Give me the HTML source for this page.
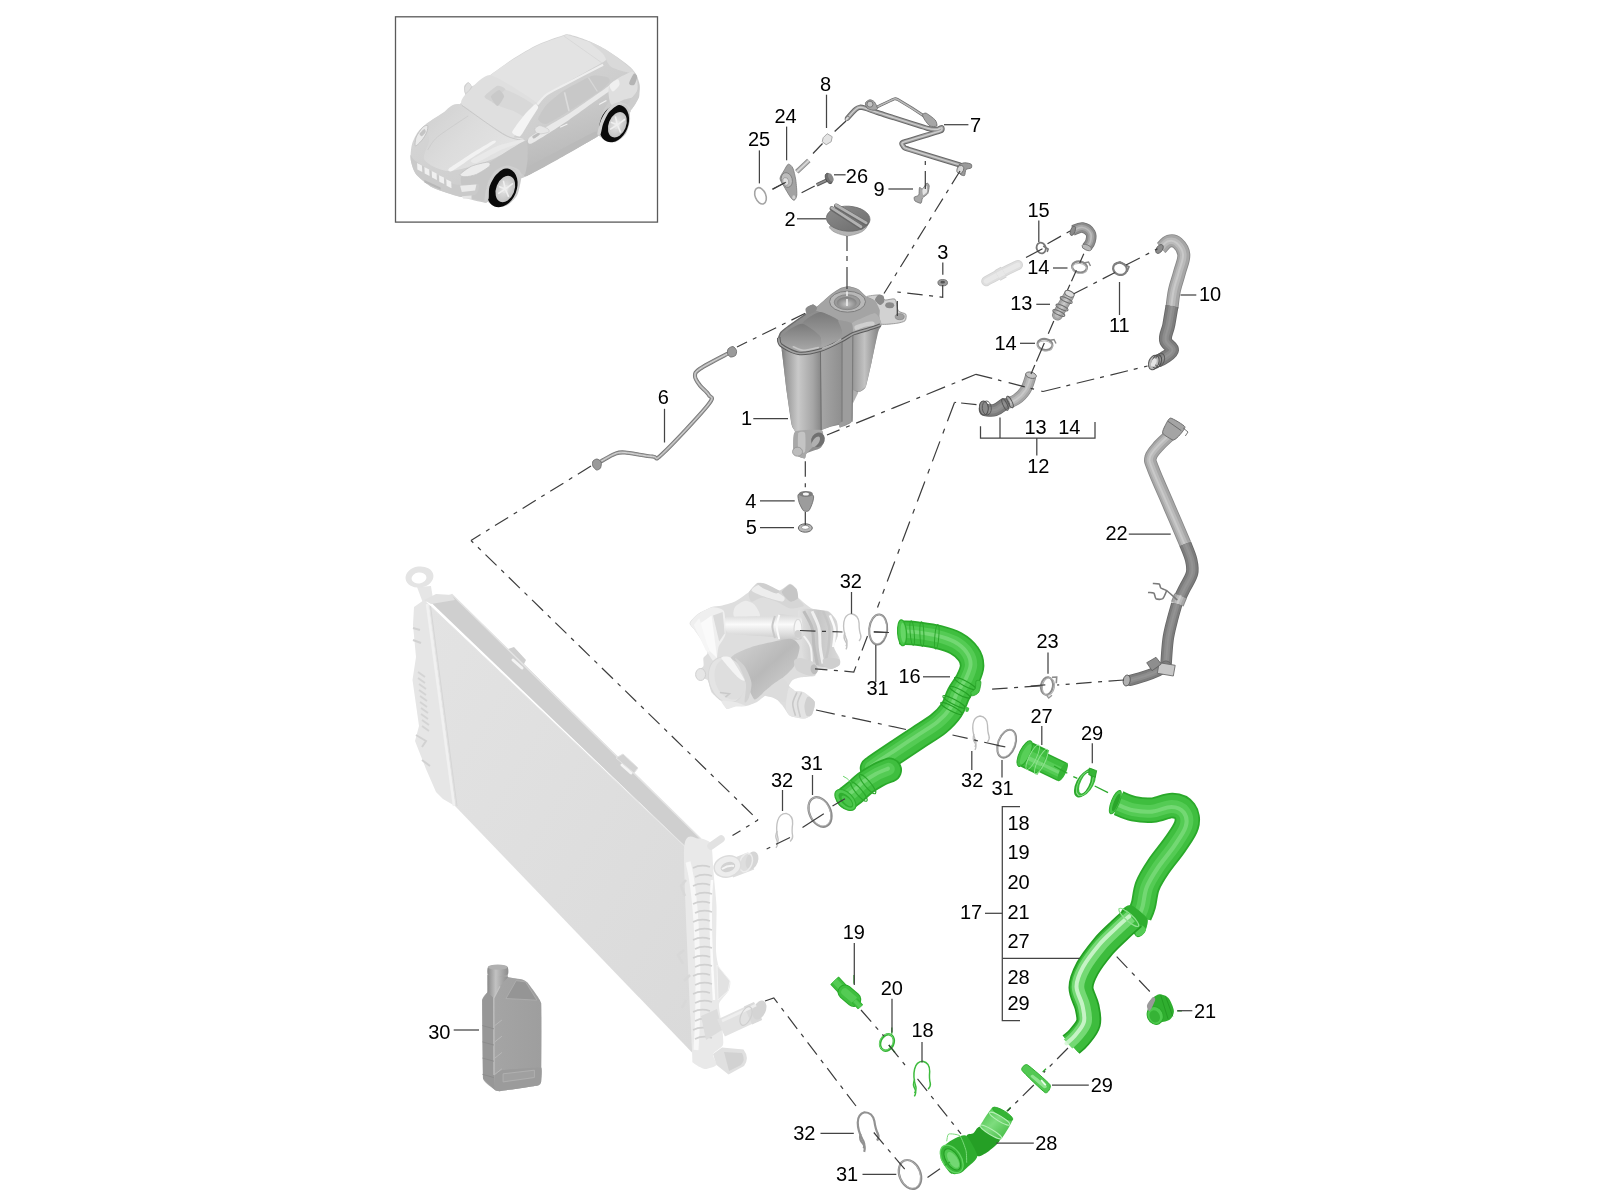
<!DOCTYPE html>
<html><head><meta charset="utf-8"><title>Diagram</title><style>
html,body{margin:0;padding:0;background:#fff;width:1600px;height:1200px;overflow:hidden}
svg{display:block;will-change:transform;filter:blur(0.45px)}
text{font-family:"Liberation Sans",sans-serif;font-size:20px;fill:#000;text-anchor:middle}
.l{stroke:#444;stroke-width:1.25;fill:none}
.d{stroke:#3c3c3c;stroke-width:1.2;fill:none;stroke-dasharray:15.5 6.5 4 6.5}
</style></head><body>
<svg width="1600" height="1200" viewBox="0 0 1600 1200">
<!-- 10_car.svg -->
<g id="car">
<rect x="395.5" y="16.8" width="262" height="205.3" fill="#fff" stroke="#5a5a5a" stroke-width="1.3"/>
<defs><linearGradient id="carb" x1="0" y1="0" x2="1" y2="1"><stop offset="0" stop-color="#dadada"/><stop offset="0.5" stop-color="#d0d0d0"/><stop offset="1" stop-color="#c0c0c0"/></linearGradient>
<linearGradient id="cars" x1="0" y1="0" x2="0.3" y2="1"><stop offset="0" stop-color="#d4d4d4"/><stop offset="1" stop-color="#b6b6b6"/></linearGradient>
<linearGradient id="carh" x1="0" y1="0" x2="1" y2="0.6"><stop offset="0" stop-color="#cfcfcf"/><stop offset="0.5" stop-color="#dcdcdc"/><stop offset="1" stop-color="#e4e4e4"/></linearGradient>
<radialGradient id="rim" cx="0.45" cy="0.5" r="0.6"><stop offset="0" stop-color="#e6e6e6"/><stop offset="1" stop-color="#bdbdbd"/></radialGradient></defs>
<path d="M410.6 154.9C410.7 152.3 411.2 146.5 412.2 143.5C413.2 140.5 416 134.7 417.9 132.1C419.7 129.5 423 126.4 426 124C429 121.6 436.1 117 440.6 114.2C445.2 111.5 456.9 106.1 460.1 103.7C463.4 101.3 464.5 98.7 465 96.4C465.5 94.1 463.8 88.5 464.2 86.6C464.6 84.8 467.3 82.6 468.2 82.6C469.2 82.6 468.5 87.7 471.5 86.6C474.5 85.5 485.4 78.2 491 74.4C496.6 70.6 507.5 62.2 513.8 58.2C520 54.2 531.6 47.4 538.1 44.4C544.6 41.3 558.4 36.7 562.5 35.4C566.6 34.1 565.8 34 569 34.6C572.2 35.3 581.9 38.3 586.9 40.3C591.9 42.4 601 46.8 606.4 50.1C611.8 53.3 623.6 61.5 627.5 64.7C631.4 67.8 634 70.9 635.6 73.6C637.2 76.3 639.3 82 639.7 85C640.1 88 639.6 93.6 638.9 96.4C638.1 99.2 635.2 104.2 634 106.1C632.8 108.1 630.5 109 629.9 111C629.4 113 630.5 117.7 629.9 120.8C629.4 123.8 627.7 130.9 625.9 133.8C624 136.6 618.7 140.9 616.1 141.9C613.5 142.8 608.8 141.9 606.4 141.1C604 140.2 599.9 135.7 598.2 135.4C596.6 135.1 603.7 133.2 594.2 138.6C584.7 144 536.4 170.9 526.8 176C517.1 181.1 522.7 175.7 521.9 176.8C521 177.9 520.9 181.6 520.2 184.1C519.6 186.6 518.7 192.7 517 195.5C515.3 198.3 510.1 203.7 507.2 205.2C504.4 206.8 498.5 207.3 495.9 206.9C493.3 206.4 489.3 202.5 487.8 202C486.2 201.5 488 203.5 484.5 202.8C481 202.2 468.7 199.2 461.8 197.1C454.8 195.1 438.6 190.4 432.5 187.4C426.4 184.3 419.1 177.6 416.2 174.4C413.4 171.1 412.1 165.6 411.4 163C410.6 160.4 410.5 157.5 410.6 154.9Z" fill="url(#carb)"/>
<path d="M491 75.2C493.2 72.4 507.5 63 513.8 59C520 55 531.6 48.2 538.1 45.2C544.6 42.2 558.4 37.5 562.5 36.2C566.6 35 565.8 34.8 569 35.4C572.2 36.1 582.5 39.3 586.9 41.1C591.2 43 598.9 47.1 601.5 49.2C604.1 51.4 606.4 55.5 606.4 57.4C606.4 59.2 607.4 59.4 601.5 63.1C595.6 66.7 570.3 80.6 562.5 85C554.7 89.4 546.5 94 543 96.4C539.5 98.8 542.6 105 536.5 102.9C530.4 100.7 503.6 83.8 497.5 80.1C491.4 76.4 488.8 78.1 491 75.2Z" fill="#e3e3e3"/>
<path d="M564.1 36.2 L601.5 62.6" fill="none" stroke="#d6d6d6" stroke-width="0.8"/>
<path d="M588.5 41.1C589.1 40.7 602.8 47.6 608 50.9C613.2 54.1 624 62.5 627.5 65.5C631 68.5 636.2 73.4 634 73.6C631.8 73.8 615.4 69.7 611.2 67.1C607.1 64.5 606.2 57.6 603.1 54.1C600.1 50.7 587.9 41.6 588.5 41.1Z" fill="#d9d9d9"/>
<path d="M461.8 104.5C458.5 100 468.6 91.2 471.5 88.2C474.4 85.3 484.5 73.8 491 75.2C497.5 76.7 532.8 98.7 536.5 102.9C540.2 107.1 530.6 114.1 528.4 117.5C526.1 120.9 516.2 135.4 513.8 137C511.3 138.6 509.2 137 504 133.8C498.8 130.5 465 109 461.8 104.5Z" fill="#dfdfdf"/>
<path d="M484.5 96.4C485.1 94.8 495.4 86.5 497.5 85.8C499.6 85.2 505.6 88 505.6 89.9C505.6 91.7 499 103.4 497.5 104.5C496 105.6 492.3 102.1 491 101.2C489.7 100.4 483.9 97.9 484.5 96.4Z" fill="#d2d2d2"/>
<path d="M497.5 104.5C496.7 102.4 502.1 89.9 505.6 89.9C509.2 89.9 531.1 101.7 533.2 104.5C535.4 107.3 528.7 116.8 526.8 117.5C524.8 118.2 516.7 112.3 513.8 111C510.8 109.7 498.3 106.6 497.5 104.5Z" fill="#d8d8d8"/>
<path d="M491 96.4C491.2 94.8 497.8 89.9 499.1 89.9C500.4 89.9 504.2 94.8 504 96.4C503.8 98 498.8 106.1 497.5 106.1C496.2 106.1 490.8 98 491 96.4Z" fill="#c9c9c9"/>
<path d="M512.1 132.1C512.5 130.1 521.2 118.6 523.5 115.9C525.8 113.1 533.4 105.3 534.9 104.5C536.3 103.7 538.6 106.1 538.1 107.8C537.6 109.4 531.8 117.9 530 120.8C528.2 123.6 522 135.1 520.2 136.2C518.5 137.3 511.8 134.2 512.1 132.1Z" fill="#f4f4f4"/>
<path d="M537.3 104.5C538.5 103.2 542.7 97.3 546.2 94.8C549.8 92.2 556.5 89 564.1 85C571.7 81 597.9 67.4 603.1 64.7" fill="none" stroke="#eeeeee" stroke-width="2.2"/>
<path d="M538.1 119.1C538.1 117.3 543.8 108.1 546.2 105.3C548.7 102.5 558 94.4 562.5 91.5C567 88.6 587.3 77.5 591.8 76.1C596.2 74.6 605.4 76.7 607.2 77.2C609 77.7 610.2 80.2 609.6 81.4C609.1 82.7 605.6 86.9 601.5 89.9C597.4 92.8 574.5 107.6 569 111C563.5 114.4 549.3 123.2 546.2 124C543.2 124.8 538.1 121 538.1 119.1Z" fill="#c8c8c8"/>
<path d="M564.5 92.3 L569 111" fill="none" stroke="#dcdcdc" stroke-width="1.6"/>
<path d="M588.5 77.7 L597.4 91.5" fill="none" stroke="#d8d8d8" stroke-width="1.2"/>
<path d="M526.8 140.2C531.1 136 561.4 120.8 569 115.9C576.6 111 598.9 94.6 603.1 91.5C607.4 88.4 610 85 611.2 85C612.5 85 616.9 88.9 616.1 91.5C615.3 94.1 604.9 106.8 603.1 111C601.3 115.2 599.1 131 598.2 133.8C597.4 136.5 601.3 134.4 594.2 138.6C587 142.8 533.6 174.1 526.8 176C519.9 177.9 525.9 161.7 525.9 158.1C525.9 154.6 522.4 144.5 526.8 140.2Z" fill="url(#cars)"/>
<path d="M530 137C533.7 134 561.7 118.2 569 113.4C576.3 108.7 598.9 92.8 603.1 89.9C607.4 87 610.3 84.3 611.2 84.2C612.2 84 613.7 87.1 612.9 88.2C612.1 89.4 607.5 92.4 603.1 95.6C598.7 98.7 576.1 115.1 569 119.9C561.9 124.7 535.5 141.8 531.6 143.5C527.7 145.2 526.3 140 530 137Z" fill="#e9e9e9"/>
<path d="M560.1 127.2 L567.4 124" fill="none" stroke="#f2f2f2" stroke-width="1.2"/>
<path d="M599.1 104.5 L606.4 100.4" fill="none" stroke="#f2f2f2" stroke-width="1.2"/>
<path d="M528.4 167.1C532.9 164.1 589.6 134.3 594.2 132.1C598.8 130 597.4 134.1 597.4 134.6C597.4 135 598.9 135.9 594.2 138.6C589.5 141.4 531.1 174.1 526.8 176C522.4 177.9 523.9 170 528.4 167.1Z" fill="#bababa"/>
<path d="M609.6 85C612.2 80.7 627.2 73.1 630.8 72C634.3 70.9 635.5 74.7 636.4 76.9C637.3 79 637.9 85.7 637.6 88.2C637.2 90.8 635.8 94.9 634 96.4C632.2 97.9 627.3 98.5 624.2 99.6C621.2 100.7 613.2 106.5 611.2 104.5C609.3 102.5 607 89.3 609.6 85Z" fill="#dfdfdf"/>
<path d="M609.6 85C610.3 83.4 616.5 79.3 617.8 79.3C619 79.3 620 83.4 619.4 85C618.7 86.6 614.2 91.5 612.9 91.5C611.6 91.5 609 86.6 609.6 85Z" fill="#f0f0f0"/>
<path d="M629.1 83.4C629.1 81.9 632.9 74.5 634 73.6C635.1 72.8 637.2 75.4 637.2 76.9C637.2 78.4 635.1 84.1 634 85C632.9 85.9 629.1 84.9 629.1 83.4Z" fill="#b4b4b4"/>
<path d="M627.5 104.5C628.5 101.9 635.7 92.6 637.2 91.5C638.8 90.4 639.6 94.4 639.2 96.4C638.8 98.3 635.2 104.2 634 106.1C632.8 108.1 630.8 111.2 629.9 111C629.1 110.8 626.5 107.1 627.5 104.5Z" fill="#cdcdcd"/>
<path d="M426 125.6C427.5 122.3 436.1 117.9 440.6 115.1C445.2 112.2 451.7 101.9 460.1 104.5C468.6 107.1 495.6 129.8 504 134.6C512.5 139.3 525.2 136.9 523.5 140.2C521.8 143.6 501 155.6 491 159.8C481 163.9 457.6 171.1 448.8 171.1C439.9 171.1 427 163.9 424.4 159.8C421.8 155.6 429 144.8 429.2 140.2C429.5 135.7 424.5 129 426 125.6Z" fill="url(#carh)"/>
<path d="M461.8 105.3C467.4 109.2 495.8 129.9 504 134.6C512.2 139.3 520.9 139.8 523.5 140.6" fill="none" stroke="#c8c8c8" stroke-width="1"/>
<path d="M427.6 150C428.9 148.3 432 141.6 437.4 137C442.8 132.4 464.1 118.7 468.2 115.9" fill="none" stroke="#cacaca" stroke-width="0.8"/>
<path d="M448.8 168.7C450.4 167.1 463.9 158.4 468.2 155.7C472.6 152.9 489.9 142.4 492.6 141.1C495.3 139.8 497.2 141 495.1 142.7C492.9 144.4 475.8 155.3 471.5 158.1C467.2 161 454.3 170.1 452 171.1C449.7 172.2 447.1 170.2 448.8 168.7Z" fill="#f2f2f2"/>
<path d="M471.5 159.8C473.6 158 492.6 147.9 497.5 145.9C502.4 144 517.6 140.4 520.2 139.9C522.9 139.5 526.3 140.5 524.3 141.6C522.4 142.6 505.5 147.9 500.8 150C496 152.1 479.3 162 476.4 163C473.4 164 469.4 161.5 471.5 159.8Z" fill="#e9e9e9"/>
<path d="M461.8 174.4C464.4 171 484.7 164.7 491 161.4C497.3 158 521.5 141.4 525.1 141.1C528.8 140.7 527.6 154.8 527.6 158.1C527.6 161.5 525.9 172.9 525.1 174.4C524.4 175.8 522 173.6 520.2 172.8C518.5 171.9 509.7 166.4 507.2 166.2C504.8 166.1 497.8 169.3 495.9 171.1C493.9 172.9 488.9 181.2 487.8 184.1C486.6 187.1 486.8 199.2 484.5 200.4C482.2 201.5 467.3 198.1 465 195.5C462.7 192.9 459.1 177.8 461.8 174.4Z" fill="#c6c6c6"/>
<path d="M460.1 174.4C461 173 467.8 167.9 471.5 166.2C475.2 164.6 485.4 162.2 487.8 162.2C490.1 162.2 490.9 164.6 489.4 166.2C487.9 167.9 479.6 173 476.4 174.4C473.1 175.8 467.2 176.8 465 176.8C462.8 176.8 459.3 175.8 460.1 174.4Z" fill="#ececec" stroke="#c2c2c2" stroke-width="0.8"/>
<path d="M416.2 137C417.2 134.5 421.2 128.8 422.8 127.2C424.3 125.7 427.1 125 427.6 125.6C428.2 126.3 427.6 130.2 426.8 132.1C426.1 134.1 423.5 138.4 421.9 140.2C420.4 142.1 416.2 146.4 415.4 145.9C414.7 145.5 415.3 139.5 416.2 137Z" fill="#e9e9e9" stroke="#bcbcbc" stroke-width="0.8"/>
<path d="M419.5 133.8C419.8 132.8 423.6 129.1 424.4 128.9C425.2 128.7 426 131.2 425.7 132.1C425.4 133.1 422.8 136 421.9 136.2C421.1 136.4 419.2 134.7 419.5 133.8Z" fill="#c4c4c4"/>
<path d="M410.6 154.9C411.1 154.7 411.9 158.4 416.2 161.4C420.6 164.3 447.4 181.8 453.6 184.1C459.8 186.4 475.7 183.2 478 184.1C480.3 185.1 478 192.6 476.4 193.9C474.8 195.2 466.1 197.8 461.8 197.1C457.4 196.5 437.1 189.7 432.5 187.4C427.9 185.1 418.4 176.8 416.2 174.4C414.1 171.9 411.9 164.9 411.4 163C410.8 161.1 410.1 155 410.6 154.9Z" fill="#cacaca"/>
<path d="M417.1 163 L421.9 165.4 L422.3 171.9 L417.4 169.5Z" fill="#f0f0f0"/>
<path d="M424.4 167.1 L429.2 169.5 L429.6 176 L424.7 173.6Z" fill="#f0f0f0"/>
<path d="M431.7 171.1 L436.6 173.6 L436.9 180.1 L432 177.6Z" fill="#f0f0f0"/>
<path d="M439 175.2 L443.9 177.6 L444.2 184.1 L439.3 181.7Z" fill="#f0f0f0"/>
<path d="M446.3 179.2 L451.2 181.7 L451.5 188.2 L446.6 185.8Z" fill="#f0f0f0"/>
<path d="M460.1 185.8 L476.4 184.4 L475.1 190.6 L461.8 191.9Z" fill="#ebebeb"/>
<path d="M424.4 180.1 L440.6 187.4 L440.6 189.8 L424.4 182.5Z" fill="#b8b8b8"/>
<path d="M461.8 196.3 L471.5 195.5 L471.5 198.8 L463.4 198.8Z" fill="#e6e6e6"/>
<path d="M534.9 128.9C535.3 127.9 538 125.6 539.8 125.6C541.5 125.6 546.7 128 547.9 128.9C549.1 129.7 549.6 131.5 548.7 132.1C547.8 132.8 543 133.6 541.4 133.8C539.8 133.9 537.4 133.6 536.5 132.9C535.6 132.3 534.4 129.8 534.9 128.9Z" fill="#e6e6e6" stroke="#c4c4c4" stroke-width="0.6"/>
<path d="M532.4 136.2C533 135.4 537.1 133.2 538.1 132.9C539.1 132.7 540.3 133.8 539.8 134.6C539.2 135.3 535 138.4 534.1 138.6C533.1 138.8 531.9 136.9 532.4 136.2Z" fill="#bdbdbd"/>
<path d="M464.7 87.4C465.1 86 467.3 82.7 468.2 82.6C469.2 82.5 471.5 85.4 471.5 86.6C471.5 87.8 469.1 90.6 468.2 91.5C467.4 92.4 465.8 93.7 465.3 93.1C464.8 92.6 464.3 88.8 464.7 87.4Z" fill="#e0e0e0" stroke="#c8c8c8" stroke-width="0.6"/>
<g transform="translate(502.1 187.7) rotate(22)"><ellipse rx="14.6" ry="20.2" fill="#0a0a0a"/><ellipse cx="3.5" rx="9.1" ry="13.7" fill="url(#rim)"/><ellipse cx="3.5" rx="2.9" ry="4.4" fill="#e2e2e2"/><path d="M3.5 0 l-5 -7 M3.5 0 l-5 7 M3.5 0 l5 -8 M3.5 0 l6 6 M3.5 0 l-7 0" stroke="#efefef" stroke-width="1.6"/></g>
<g transform="translate(614.2 123.5) rotate(22)"><ellipse rx="14.0" ry="19.5" fill="#0a0a0a"/><ellipse cx="3.4" rx="8.7" ry="13.3" fill="url(#rim)"/><ellipse cx="3.4" rx="2.8" ry="4.3" fill="#e2e2e2"/><path d="M3.4 0 l-5 -7 M3.4 0 l-5 7 M3.4 0 l5 -8 M3.4 0 l6 6 M3.4 0 l-7 0" stroke="#efefef" stroke-width="1.6"/></g>
<path d="M484.5 200.4C484.4 198.2 486.2 186.5 487.8 182.5C489.3 178.5 493.3 172.6 495.9 170.3C498.5 168 504.2 165.5 507.2 165.4C510.3 165.3 516.7 168 518.6 169.5C520.6 171 522.5 176.9 521.9 176.8C521.2 176.7 516.1 169.8 513.8 168.7C511.4 167.6 506.5 167.7 504 168.7C501.5 169.7 497 173.5 495.1 176C493.1 178.5 490.2 184.3 489.4 187.4C488.5 190.4 489.2 197 488.6 198.8C487.9 200.5 484.6 202.5 484.5 200.4Z" fill="#cfcfcf"/>
<path d="M597.4 133.8C597.5 131.8 599.9 122.7 601.5 119.1C603.1 115.5 607.2 109.2 609.6 106.9C612 104.7 616.8 102.2 619.4 102.1C622 102 627.6 104.7 629.1 106.1C630.6 107.5 631.2 112.7 630.8 112.6C630.3 112.5 627.6 106.3 625.9 105.3C624.1 104.3 620 104.3 617.8 105.3C615.5 106.3 610.8 110.1 608.8 112.6C606.9 115.1 604.2 121.2 603.1 124C602 126.8 601.4 132.4 600.7 133.8C599.9 135.1 597.3 135.7 597.4 133.8Z" fill="#d2d2d2"/>
</g>
<!-- 20_rad.svg -->
<g id="rad">
<defs>
<linearGradient id="radcore" x1="0" y1="0" x2="1" y2="1"><stop offset="0" stop-color="#e3e3e3"/><stop offset="1" stop-color="#dadada"/></linearGradient>
</defs>
<path d="M428.5 604 L686 847 L692.5 1053 L455 806Z" fill="url(#radcore)"/>
<path d="M431 602.5 L452 594.5 L508 649 L514 647 L526 660 L524 664 L701 839 L687 848Z" fill="#cfcfcf"/>
<path d="M431 602.5 L452 594.5 L701 839" fill="none" stroke="#e4e4e4" stroke-width="1.5"/>
<path d="M429 605 L687 848.5" fill="none" stroke="#e6e6e6" stroke-width="1"/>
<path d="M513 660 L522 668" stroke="#f4f4f4" stroke-width="3" stroke-linecap="round"/>
<path d="M622 765 L631 773" stroke="#f4f4f4" stroke-width="3" stroke-linecap="round"/>
<path d="M616 758 L623 754 L638 768 L634 773Z" fill="#d2d2d2" stroke="#e2e2e2" stroke-width="1"/>
<path d="M428.5 604 L424 600 L414 607 L413 625 L416 657 L412.5 680 L419 726 L415 741 L426 769 L436 792 L443 799 L455 806Z" fill="#e6e6e6"/>
<path d="M427 604 L454 806" stroke="#f1f1f1" stroke-width="2.5" fill="none"/>
<path d="M430.5 606 L457 806" stroke="#d6d6d6" stroke-width="1" fill="none"/>
<path d="M418 672 l7 5" stroke="#d4d4d4" stroke-width="2"/>
<path d="M418 678 l7 5" stroke="#d4d4d4" stroke-width="2"/>
<path d="M419 684 l7 5" stroke="#d4d4d4" stroke-width="2"/>
<path d="M419 690 l7 5" stroke="#d4d4d4" stroke-width="2"/>
<path d="M420 696 l7 5" stroke="#d4d4d4" stroke-width="2"/>
<path d="M420 702 l7 5" stroke="#d4d4d4" stroke-width="2"/>
<path d="M421 708 l7 5" stroke="#d4d4d4" stroke-width="2"/>
<path d="M421 714 l7 5" stroke="#d4d4d4" stroke-width="2"/>
<path d="M422 720 l7 5" stroke="#d4d4d4" stroke-width="2"/>
<path d="M422 726 l7 5" stroke="#d4d4d4" stroke-width="2"/>
<path d="M413 640 l8 3 M413 628 l7 2 M416 735 l10 6 l-4 6 M422 760 l8 6" stroke="#d2d2d2" stroke-width="2" fill="none"/>
<path d="M417 587 L423 603 L433 599 L431 586Z" fill="#e6e6e6"/>
<ellipse cx="419.5" cy="577" rx="14" ry="10.5" fill="#e4e4e4" transform="rotate(-8 419.5 577)"/>
<ellipse cx="419" cy="578" rx="7.5" ry="5.5" fill="#fff" transform="rotate(-8 419 578)"/>
<path d="M424 600 L436 594 L452 595 L455 600 L431 604Z" fill="#e2e2e2"/>
<path d="M684 850C684.6 828.9 695.3 839.1 698 838.5C700.7 837.9 709.5 840.1 711 843.5C712.5 846.9 713 865.8 713.5 872C714 878.2 716.2 898.2 716.5 906C716.8 913.8 715.8 943.9 716 950C716.2 956.1 717.6 963.9 719 967C720.4 970.1 729 978.6 730 981C731 983.4 729.6 988.7 728.5 991C727.4 993.3 719.6 1000.5 719 1004C718.4 1007.5 721.6 1021.9 722 1026C722.4 1030.1 723.9 1042.2 723 1045C722.1 1047.8 713.6 1052 713 1054C712.4 1056 717.3 1063.5 716.5 1065C715.7 1066.5 707.4 1069.2 705 1069C702.6 1068.8 694.3 1064.4 693 1062.5C691.7 1060.6 692.9 1071.2 692 1050C691.1 1028.8 683.4 871.1 684 850Z" fill="#e9e9e9"/>
<path d="M688 862 C698 900 700 990 696 1050" stroke="#f7f7f7" stroke-width="5" fill="none"/>
<path d="M712 880 C709 920 712 960 714 1000" stroke="#fbfbfb" stroke-width="2.5" fill="none"/>
<path d="M693 868 q8 -4 17 -1" stroke="#d0d0d0" stroke-width="1.8" fill="none"/>
<path d="M695 877 q8 -4 17 -1" stroke="#d0d0d0" stroke-width="1.8" fill="none"/>
<path d="M693 886 q8 -4 17 -1" stroke="#d0d0d0" stroke-width="1.8" fill="none"/>
<path d="M695 895 q8 -4 17 -1" stroke="#d0d0d0" stroke-width="1.8" fill="none"/>
<path d="M693 904 q8 -4 17 -1" stroke="#d0d0d0" stroke-width="1.8" fill="none"/>
<path d="M695 913 q8 -4 17 -1" stroke="#d0d0d0" stroke-width="1.8" fill="none"/>
<path d="M693 922 q8 -4 17 -1" stroke="#d0d0d0" stroke-width="1.8" fill="none"/>
<path d="M695 931 q8 -4 17 -1" stroke="#d0d0d0" stroke-width="1.8" fill="none"/>
<path d="M693 940 q8 -4 17 -1" stroke="#d0d0d0" stroke-width="1.8" fill="none"/>
<path d="M695 949 q8 -4 17 -1" stroke="#d0d0d0" stroke-width="1.8" fill="none"/>
<path d="M693 958 q8 -4 17 -1" stroke="#d0d0d0" stroke-width="1.8" fill="none"/>
<path d="M695 967 q8 -4 17 -1" stroke="#d0d0d0" stroke-width="1.8" fill="none"/>
<path d="M693 976 q8 -4 17 -1" stroke="#d0d0d0" stroke-width="1.8" fill="none"/>
<path d="M695 985 q8 -4 17 -1" stroke="#d0d0d0" stroke-width="1.8" fill="none"/>
<path d="M693 994 q8 -4 17 -1" stroke="#d0d0d0" stroke-width="1.8" fill="none"/>
<path d="M695 1003 q8 -4 17 -1" stroke="#d0d0d0" stroke-width="1.8" fill="none"/>
<path d="M693 1012 q8 -4 17 -1" stroke="#d0d0d0" stroke-width="1.8" fill="none"/>
<path d="M695 1021 q8 -4 17 -1" stroke="#d0d0d0" stroke-width="1.8" fill="none"/>
<path d="M693 1030 q8 -4 17 -1" stroke="#d0d0d0" stroke-width="1.8" fill="none"/>
<path d="M695 1039 q8 -4 17 -1" stroke="#d0d0d0" stroke-width="1.8" fill="none"/>
<path d="M686 880 l-5 6 l4 10 M684 950 l-6 5 l5 9 M690 975 l-6 6 M686 1000 l-4 8" stroke="#d8d8d8" stroke-width="2.5" fill="none"/>
<path d="M717 965 L730 981 L728 991 L718 1000Z" fill="#e2e2e2" stroke="#f2f2f2" stroke-width="1"/>
<path d="M701 1016 L717 1009 L722 1030 L706 1040Z" fill="#dcdcdc"/>
<path d="M711 846 L721 839" stroke="#e2e2e2" stroke-width="7.5" stroke-linecap="round"/>
<path d="M730 869 L751 861" stroke="#dedede" stroke-width="18" stroke-linecap="butt"/>
<ellipse cx="752" cy="860.5" rx="6" ry="9.3" fill="#d6d6d6" transform="rotate(20 752 860.5)"/>
<ellipse cx="746" cy="862.5" rx="6" ry="9.6" fill="none" stroke="#ececec" stroke-width="1.5" transform="rotate(20 746 862.5)"/>
<ellipse cx="727.5" cy="866.5" rx="13.5" ry="10.5" fill="#ededed" stroke="#dcdcdc" stroke-width="1.5" transform="rotate(-15 727.5 866.5)"/>
<ellipse cx="728" cy="867" rx="7.5" ry="4.8" fill="#d2d2d2" transform="rotate(-20 728 867)"/>
<path d="M722 869 q6 -4 12 -3" stroke="#f4f4f4" stroke-width="2" fill="none"/>
<path d="M721 1028 L758 1011" stroke="#e2e2e2" stroke-width="18.5"/>
<path d="M748 1015.5 L758 1011" stroke="#dadada" stroke-width="20"/>
<ellipse cx="759.5" cy="1010" rx="6.2" ry="10" fill="#d4d4d4" transform="rotate(24 759.5 1010)"/>
<path d="M722 1021 L756 1005" stroke="#eeeeee" stroke-width="3"/>
<ellipse cx="746" cy="1016" rx="5" ry="10" fill="none" stroke="#cfcfcf" stroke-width="1.2" transform="rotate(24 746 1016)"/>
<path d="M713 1054 L722 1047.5 L743.5 1049.5 Q750 1058 744 1066 L728.5 1074.5 L716.5 1065Z" fill="#e0e0e0"/>
<path d="M724 1052 L742 1053 Q746 1060 741 1065 L729 1071Z" fill="#d2d2d2"/>
</g>
<!-- 25_pump.svg -->
<g id="pump">
<defs>
<linearGradient id="pmA" x1="0" y1="0" x2="0" y2="1"><stop offset="0" stop-color="#d6d6d6"/><stop offset="0.4" stop-color="#fafafa"/><stop offset="0.75" stop-color="#dedede"/><stop offset="1" stop-color="#c8c8c8"/></linearGradient>
<linearGradient id="pmB" x1="0" y1="0" x2="1" y2="1"><stop offset="0" stop-color="#d4d4d4"/><stop offset="0.5" stop-color="#b9b9b9"/><stop offset="1" stop-color="#d6d6d6"/></linearGradient>
<linearGradient id="pmC" x1="0" y1="0" x2="1" y2="0"><stop offset="0" stop-color="#e2e2e2"/><stop offset="0.5" stop-color="#c6c6c6"/><stop offset="1" stop-color="#d8d8d8"/></linearGradient>
</defs>
<path d="M689.6 622.9C690 621.4 695.7 615.6 697.9 614C700.1 612.4 709.3 608 711.6 607.1C714 606.3 718.9 606.3 721.2 605.8C723.6 605.2 732.2 603 735 601.6C737.8 600.2 746.5 593.9 748.8 592C751 590.1 755.4 583.9 757 583.1C758.6 582.2 763 583 765.2 583.8C767.5 584.5 776.5 590.6 779 590.6C781.5 590.6 788.2 583.9 790 583.8C791.8 583.6 796 587.9 796.9 589.2C797.7 590.6 796.7 595.6 798.2 597.5C799.8 599.4 809 607.1 812 608.5C815 609.9 826 610 828.5 611.2C831 612.5 835.8 618.5 836.8 620.9C837.7 623.2 838.4 632 838.1 634.6C837.9 637.2 833.9 644.7 834 647C834.1 649.3 839 656.2 839.5 658C840 659.8 840.3 663.8 839.5 664.9C838.7 666 833.5 668.5 831.2 669C829 669.5 819.1 669.7 817.5 670.4C815.9 671.1 816.4 675.2 814.8 675.9C813.1 676.6 803.2 676.8 801 677.2C798.8 677.7 794 679 792.8 680C791.5 681 788.5 685.8 788.6 686.9C788.8 688 792.6 690.5 794.1 691C795.6 691.5 801.7 691.3 803.8 692.4C805.8 693.5 813.9 699.8 814.8 702C815.6 704.2 813.1 712.7 812 714.4C810.9 716 806 718.4 803.8 718.5C801.5 718.6 792.2 717.1 790 715.8C787.8 714.4 783.8 707 781.8 704.8C779.7 702.5 771.9 694 769.4 693.8C766.9 693.5 759.3 700.8 757 702C754.7 703.2 748.2 705.7 746 706.1C743.8 706.5 736.9 705.9 735 706.1C733.1 706.4 728.1 709.4 726.8 708.9C725.4 708.3 722.8 702.3 721.2 700.6C719.7 699 713 694.4 711.6 692.4C710.2 690.3 708.9 681.5 707.5 680C706.1 678.5 699 678.1 697.9 677.2C696.8 676.4 696 672.9 696.5 671.8C697 670.6 702.7 667.6 703.4 666.2C704.1 664.9 703 659.4 703.4 658C703.8 656.6 707.8 654.4 707.5 652.5C707.2 650.6 702 641.1 700.6 638.8C699.2 636.4 694.9 630.7 693.8 629.1C692.6 627.5 689.2 624.5 689.6 622.9Z" fill="#dedede"/>
<path d="M798.2 611.2C799.5 607.8 808.5 609.1 812 609.2C815.5 609.3 825.6 610.5 828.5 611.9C831.4 613.3 835.4 618.5 836.5 621.1C837.6 623.8 838.2 631.6 837.9 634.6C837.5 637.6 833.7 644.3 833.7 647C833.8 649.7 838.4 655.8 838.1 658C837.8 660.2 833.7 665.3 831.2 666.2C828.8 667.2 820.7 667.2 817.5 666.2C814.3 665.3 805.7 661.2 803.8 658C801.8 654.8 801.6 644.2 801 638.8C800.4 633.3 797 614.7 798.2 611.2Z" fill="url(#pmC)"/>
<path d="M812 611.2C813.1 614 817.5 621.8 818.9 627.8C820.2 633.7 819.6 641 820.2 647C820.9 653 822.5 660.8 823 663.5" fill="none" stroke="#efefef" stroke-width="3"/>
<path d="M823 611.2C824 614 828.3 621.8 829.2 627.8C830.1 633.7 829.1 641.7 828.5 647C827.9 652.3 826.2 657.3 825.8 659.4" fill="none" stroke="#c6c6c6" stroke-width="2.5"/>
<path d="M803.8 636C804.9 637.8 809.2 642 810.6 647C812 652 811.8 663 812 666.2" fill="none" stroke="#f2f2f2" stroke-width="2"/>
<path d="M748.8 592.7C749.4 590.6 755.1 584.7 757 583.8C758.9 582.8 762.7 583.3 765.2 584.2C767.8 585 776.1 590.9 779 590.9C781.9 590.9 787.9 584.6 790 584.4C792.1 584.3 795.7 587.9 796.6 589.5C797.5 591.1 797.1 596.3 798 598.2C798.8 600.1 804.7 604.5 803.8 605.8C802.8 607 793.2 609 790 608.5C786.8 608 779.5 602.9 776.2 601.6C773 600.3 765.4 597.5 762.5 597.5C759.6 597.5 753.1 602.2 751.5 601.6C749.9 601.1 748.1 594.8 748.8 592.7Z" fill="#d6d6d6"/>
<path d="M751.5 590.6C751.1 589.3 756.2 585 759.1 585.1C762 585.3 773.3 590.6 776.2 592C779.2 593.4 783.9 596.4 784.5 597.5C785.1 598.6 784.3 601.8 781.8 601.6C779.2 601.5 766 597.4 762.5 596.1C759 594.8 751.9 591.9 751.5 590.6Z" fill="#ededed"/>
<path d="M735 607.1C736.3 604.9 742.1 601.3 744.6 600.9C747.2 600.6 752.2 602.6 754.2 604.4C756.3 606.1 759.4 612.2 759.8 614C760.1 615.8 760.3 617.7 757 618.1C753.7 618.6 737.9 618.9 735 617.4C732.1 616 733.7 609.3 735 607.1Z" fill="#ececec"/>
<path d="M725.4 617.4C728.7 616.4 772.7 616.3 776.2 616.1C779.8 615.8 777.4 613.9 779 614C780.6 614.1 799.5 615.8 801 617.4C802.5 619.1 803.2 637.2 801.7 638.8C800.2 640.3 780.7 640.2 779 640.1C777.3 640 779 637.7 776.2 637.4C773.5 637 741 635 737.8 634.6C734.5 634.3 727.6 633 726.8 631.9C725.9 630.7 722.1 618.5 725.4 617.4Z" fill="url(#pmA)"/>
<path d="M774.9 616.1C774.5 617.8 772.4 622.7 772.4 626.4C772.4 630 774.5 636.1 774.9 638.1" fill="none" stroke="#c9c9c9" stroke-width="2"/>
<path d="M779.3 614.7C778.9 616.6 776.8 622.2 776.8 626.4C776.8 630.5 778.9 637.3 779.3 639.4" fill="none" stroke="#fafafa" stroke-width="2"/>
<ellipse cx="798.0" cy="628.9" rx="4.0" ry="9.5" fill="#f6f6f6" stroke="#dadada" stroke-width="1.2" transform="rotate(0 798.0 628.9)" />
<ellipse cx="798.0" cy="633.9" rx="3.5" ry="4.0" fill="#d0d0d0" transform="rotate(0 798.0 633.9)" />
<path d="M690.3 622.9C690.7 621.5 695.7 615.8 697.9 614.3C700 612.7 709 607.7 711.6 607.4C714.2 607.1 722.6 608.5 724 611.2C725.4 614 725.9 631 725.4 634.6C724.8 638.2 719.5 644.1 718.5 647C717.5 649.9 716.9 663 715.8 663.5C714.6 664 709 655 707.5 652.5C706 650 702 641.1 700.6 638.8C699.2 636.4 694.8 630.7 693.8 629.1C692.7 627.5 689.9 624.4 690.3 622.9Z" fill="#efefef"/>
<path d="M697.9 625 L711.6 615.4 L717.1 658 L709.6 651.1Z" fill="#fafafa"/>
<path d="M713 615.4 L722.6 611.9 L724.7 633.2 L719.2 641.5Z" fill="#dadada"/>
<path d="M730.9 658C731.6 654.7 745.6 648.9 751.5 647C757.4 645.1 785.2 638.8 790 638.8C794.8 638.8 799.2 644.2 799.6 647C800 649.8 795.9 663.1 794.1 666.2C792.3 669.4 784.9 675.9 781.8 678.6C778.6 681.4 765.2 691.7 762.5 693.8C759.8 695.8 756 700.6 754.2 699.2C752.5 697.9 747 684.1 744.6 680C742.3 675.9 730.2 661.3 730.9 658Z" fill="url(#pmB)"/>
<ellipse cx="726.1" cy="680.0" rx="17.0" ry="23.5" fill="#e4e4e4" stroke="#d8d8d8" stroke-width="1.0" transform="rotate(-18 726.1 680.0)" />
<ellipse cx="730.1" cy="679.0" rx="15.0" ry="21.0" fill="#dedede" transform="rotate(-18 730.1 679.0)" />
<path d="M735 658C735.5 657.6 742.4 663 744.6 666.2C746.8 669.5 751 678.5 751.5 682.8C752 687 749.7 695.3 748.8 697.9C747.8 700.4 745 703.8 744.6 702C744.3 700.2 746.5 688.5 746 684.1C745.5 679.7 742 672.5 740.5 669C739 665.5 734.5 658.4 735 658Z" fill="#d2d2d2"/>
<ellipse cx="700.6" cy="674.5" rx="5.0" ry="6.0" fill="#e6e6e6" stroke="#d0d0d0" stroke-width="1.0" transform="rotate(0 700.6 674.5)" />
<path d="M721.2 700.6C722.1 699.9 732.5 701.5 735 702C737.5 702.5 746 705.6 746 706.1C746 706.6 736.9 706.5 735 706.8C733.1 707.1 728.1 709.5 726.8 708.9C725.4 708.3 720.4 701.3 721.2 700.6Z" fill="#e9e9e9"/>
<path d="M762.5 693.8C763.3 691.8 779 679.3 781.8 678.6C784.5 677.9 788.8 685.6 790 686.9C791.2 688.1 794.7 689.5 794.1 691C793.6 692.5 786.6 701.3 784.5 702C782.4 702.7 775.7 698.7 773.5 697.9C771.3 697 761.7 695.7 762.5 693.8Z" fill="#dcdcdc"/>
<path d="M794.1 660.8C794.7 659.1 798.1 657.6 801 658C803.9 658.4 813.9 661.7 816.1 663.5C818.3 665.3 818.2 670.1 817.5 671.8C816.8 673.4 813.4 676.1 810.6 675.9C807.9 675.7 799.1 672.4 796.9 670.4C794.7 668.4 793.6 662.4 794.1 660.8Z" fill="#d4d4d4"/>
<ellipse cx="814.1" cy="669.3" rx="3.5" ry="5.0" fill="#bdbdbd" transform="rotate(-10 814.1 669.3)" />
<path d="M823 659.4C823.9 658.3 829 658 831.2 658C833.5 658 838.4 658.5 839.5 659.4C840.6 660.3 840.6 663.6 839.5 664.9C838.4 666.2 833.3 668.8 831.2 669C829.2 669.2 825.5 667.5 824.4 666.2C823.3 665 822.1 660.5 823 659.4Z" fill="#cfcfcf"/>
<path d="M788.6 688.2C789.7 686.3 793.7 690.5 795.5 691C797.3 691.5 802.2 691.1 804.4 692.4C806.7 693.7 813.9 699.4 814.8 702C815.6 704.6 813.3 712.5 812 714.4C810.7 716.3 806.3 718.3 803.8 718.5C801.2 718.7 792.1 717 790 715.8C787.9 714.5 786 710.7 785.9 707.5C785.7 704.3 787.5 690.2 788.6 688.2Z" fill="#e4e4e4"/>
<path d="M796.9 692.4C796.2 694.2 793 699.5 792.8 703.4C792.5 707.3 795 713.7 795.5 715.8" fill="none" stroke="#c8c8c8" stroke-width="1.6"/>
<path d="M801.7 692.4C801 694.2 797.8 699.2 797.6 703.4C797.3 707.5 799.9 714.8 800.3 717.1" fill="none" stroke="#cdcdcd" stroke-width="1.6"/>
<path d="M807.9 696.5C809.2 696 814.2 699.6 814.8 702C815.3 704.4 813.1 712.5 812 714.4C810.9 716.2 807.5 716.9 806.5 715.8C805.5 714.6 804.3 708.7 804.4 706.1C804.6 703.6 806.5 697 807.9 696.5Z" fill="#d0d0d0"/>
<path d="M803.8 611.2C805.1 614 810.3 621.8 812 627.8C813.7 633.7 813.1 640.8 814.1 647C815 653.2 816.9 661.9 817.5 664.9" fill="none" stroke="#bcbcbc" stroke-width="3"/>
<path d="M829.9 615.4C830.7 617.7 834.1 623.9 834.7 629.1C835.3 634.4 833.5 644 833.3 647" fill="none" stroke="#fbfbfb" stroke-width="2.5"/>
<path d="M693.8 625 L699.2 618.1 L709.6 652.5 L706.1 651.1Z" fill="#f6f6f6"/>
<path d="M757 583.1C757.3 582.6 763 583 765.2 583.8C767.5 584.5 777.9 589.7 779 590.6C780.1 591.6 777.9 593.6 776.2 593.4C774.6 593.1 764.4 588.9 762.5 587.9C760.6 586.8 756.7 583.5 757 583.1Z" fill="#cfcfcf"/>
<path d="M781.8 592C781.8 590.3 788.5 584.7 790 584.4C791.5 584.2 795.8 588.1 796.6 589.5C797.4 590.9 798.6 597 798 598.2C797.3 599.4 791.6 602.2 790 601.6C788.4 601 781.8 593.7 781.8 592Z" fill="#c6c6c6"/>
<path d="M721.2 658C720.6 656.1 728.5 655.8 730.9 658C733.2 660.2 743.9 678.1 744.6 680C745.3 681.9 740.1 679.5 737.8 677.2C735.4 675 721.9 659.9 721.2 658Z" fill="#f4f4f4"/>
<path d="M719.9 692.4 L729.5 693.8 L725.4 697.2" fill="none" stroke="#c9c9c9" stroke-width="1.5"/>
</g>
<!-- 30_tank.svg -->
<g id="tank">
<defs>
<linearGradient id="tkA" x1="0" y1="0" x2="1" y2="0"><stop offset="0" stop-color="#7c7c7c"/><stop offset="0.12" stop-color="#9a9a9a"/><stop offset="0.42" stop-color="#c9c9c9"/><stop offset="0.8" stop-color="#a6a6a6"/><stop offset="1" stop-color="#888"/></linearGradient>
<linearGradient id="tkB" x1="0" y1="0" x2="1" y2="0"><stop offset="0" stop-color="#a6a6a6"/><stop offset="1" stop-color="#8f8f8f"/></linearGradient>
<linearGradient id="tkC" x1="0" y1="0" x2="1" y2="0"><stop offset="0" stop-color="#9a9a9a"/><stop offset="0.45" stop-color="#c2c2c2"/><stop offset="1" stop-color="#868686"/></linearGradient>
<linearGradient id="tkD" x1="0" y1="0" x2="0" y2="1"><stop offset="0" stop-color="#7a7a7a"/><stop offset="1" stop-color="#adadad"/></linearGradient>
<radialGradient id="tkN" cx="0.5" cy="0.6" r="0.6"><stop offset="0" stop-color="#c4c4c4"/><stop offset="1" stop-color="#7c7c7c"/></radialGradient>
</defs>
<path d="M777.5 339.2C777.8 338.3 778.9 334.6 780 333.3C781.1 332.1 785.8 328.6 788.3 326.7C790.9 324.8 804 316.1 805.8 314.2C807.7 312.2 805.9 308.5 806.7 307.5C807.4 306.5 812.3 304.2 813.3 304.2C814.3 304.1 815 307.6 816.7 306.7C818.3 305.8 827.7 296.8 830 295C832.3 293.2 838.2 289.2 840 288.3C841.8 287.5 846.5 286.2 848.3 286.3C850.2 286.4 856.5 288.1 858.3 289.2C860.2 290.2 865 295.6 866.7 296.7C868.3 297.8 873.7 298.8 875 300C876.3 301.2 879.6 306.5 880 308.3C880.4 310.2 879 316.7 879.2 318.3C879.3 320 881.8 323.7 881.7 325C881.6 326.3 879.3 328 878.3 331.7C877.3 335.3 872.9 356.2 871.7 361.7C870.4 367.2 867 383.7 865.8 386.7C864.7 389.7 860.8 391.1 860 391.7C859.2 392.2 858.2 391.3 857.5 392.5C856.8 393.7 853.1 400.4 852.5 403.3C851.9 406.3 852.9 419.2 851.7 421.7C850.4 424.1 841.3 427.2 840 427.5C838.7 427.8 840.2 424.8 838.3 425C836.5 425.2 823.2 428.8 821.7 430C820.1 431.2 822.2 436.3 822.5 437.5C822.8 438.7 824.4 440.6 824.2 441.7C823.9 442.7 821.8 447.2 820 448.3C818.2 449.5 808.2 452.3 806.7 453.3C805.2 454.3 805.6 457.9 805 458.3C804.4 458.8 801.8 457.9 800.8 457.5C799.8 457.1 795.8 454.9 795 454.2C794.2 453.4 793.3 452.2 793.3 450C793.3 447.8 795.2 434.2 795 431.7C794.8 429.2 792.5 429 791.7 425C790.8 421 787.7 399.2 786.7 391.7C785.7 384.2 782.6 355 781.7 350C780.8 345 777.9 342.8 777.5 341.7C777.1 340.6 777.2 340 777.5 339.2Z" fill="#8e8e8e"/>
<path d="M866.7 296.7C867.2 295.9 877.9 294.6 880 295C882.1 295.4 883.2 299.5 885 300C886.8 300.5 893.4 297.9 895 299.2C896.6 300.4 897.1 309.1 898.3 310.8C899.6 312.6 905.1 313 905.8 314.2C906.6 315.3 906.1 319.8 905 320.8C903.9 321.9 899.4 322.9 896.7 323.3C893.9 323.7 883.7 324.8 881.7 324.2C879.6 323.6 879.9 321 879.2 318.3C878.4 315.7 876.5 304.2 875 301.7C873.5 299.1 866.1 297.4 866.7 296.7Z" fill="#d2d2d2" stroke="#8a8a8a" stroke-width="0.8"/>
<ellipse cx="889.7" cy="305.3" rx="4.5" ry="3" fill="#8a8a8a"/>
<ellipse cx="899.7" cy="316.7" rx="4.5" ry="3" fill="#a0a0a0" stroke="#888" stroke-width=".8"/>
<path d="M875 300C874.8 298.7 877.2 295.6 878.3 295C879.4 294.4 882.6 294.9 883.3 295.8C884.1 296.7 884.6 300.4 884.2 301.7C883.7 302.9 881.2 305.2 880 305C878.8 304.8 875.2 301.3 875 300Z" fill="#8a8a8a"/>
<path d="M781.7 350 L798.3 354.2 L820 350.8 L820.8 430 L795 431.7 L791.7 425 L786.7 391.7Z" fill="url(#tkA)"/>
<path d="M820.8 350.8 L841.7 340.8 L841.7 421.7 L821.7 430Z" fill="url(#tkB)"/>
<path d="M842.5 340.3 L852.5 335.3 L851.7 421.7 L840 427.5 L839.2 423.3 L842 421.7Z" fill="#9d9d9d"/>
<path d="M853.3 335 L878.3 327.5 L871.7 361.7 L865.8 386.7 L860 391.7 L853.3 390Z" fill="url(#tkC)"/>
<path d="M853.3 390 L858.3 392.5 L853 403.3Z" fill="#b0b0b0"/>
<path d="M820.5 351.7 L821.2 430.0" stroke="#6e6e6e" stroke-width="1"/>
<path d="M842.0 340.8 L842.0 421.7" stroke="#777" stroke-width="1"/>
<path d="M852.8 335.3 L852.2 421.7" stroke="#7a7a7a" stroke-width="1"/>
<path d="M815 309.2C816 307.6 827.5 297.8 830 295.8C832.5 293.8 838.2 290.1 840 289.2C841.8 288.3 846.5 286.9 848.3 287C850.2 287.1 856.5 288.7 858.3 289.7C860.2 290.7 865 295.9 866.7 297C868.3 298.1 873.7 299.5 875 300.8C876.3 302.1 879.2 308.2 879.7 310C880.1 311.8 879.1 317.2 879.2 318.7C879.2 320.2 882.6 323.6 880 325C877.4 326.4 856.2 331.5 853.3 332.5C850.5 333.5 852.8 334.5 851.7 335.3C850.6 336.1 843.8 341.9 842.5 340.3C841.2 338.8 840.6 322.8 838.3 320C836.1 317.2 822.3 313.1 820 312C817.7 310.9 814 310.8 815 309.2Z" fill="#a4a4a4"/>
<path d="M851.7 323.3C852.8 321.8 862.7 317.7 865 316.7C867.3 315.7 873.5 313.1 875 313.3C876.5 313.5 879.2 317.5 879.7 318.7C880.2 319.8 882.6 323.6 880 325C877.4 326.4 856.2 332.7 853.3 332.5C850.5 332.3 850.5 324.9 851.7 323.3Z" fill="#b2b2b2"/>
<path d="M802.5 323.3C802.5 320.9 816.4 312.3 820 312C823.6 311.7 836.1 318.5 838.3 320.3C840.5 322.1 841.6 327.9 842 330C842.4 332.1 844.1 338.7 842 340.8C839.9 343 823 351.8 820.8 351.3C818.7 350.9 822.2 339.5 820.3 336.7C818.5 333.9 802.5 325.8 802.5 323.3Z" fill="url(#tkD)"/>
<path d="M779.7 340.3C780.3 338.2 785.7 332.3 788.3 330.3C791 328.4 798.9 323.1 802.5 323.7C806.1 324.2 817.1 332.5 819.2 335.3C821.2 338.2 822.8 346.2 820.3 348.3C817.9 350.4 802.7 353.3 798.3 353.3C793.9 353.3 784.7 349.8 782.5 348.3C780.3 346.8 779 342.4 779.7 340.3Z" fill="url(#tkD)"/>
<path d="M838.3 320.3C839.3 319.7 850.2 321.8 851.7 323.3C853.1 324.8 853.4 333.6 852.5 335.3C851.6 337 843.5 340.9 842.5 340.3C841.5 339.8 842.4 332 842 330C841.6 328 837.4 321 838.3 320.3Z" fill="#9a9a9a"/>
<path d="M778.7 337.5C779 338.5 778.2 342.9 780.8 345C783.5 347.1 793 352.7 798.3 353.3C803.7 354 815 351.7 820.8 350C826.7 348.3 837.7 342.5 842 340.3C846.3 338.2 849.8 335.2 853.3 333.7C856.8 332.2 864.7 330.3 868.3 329.2C871.9 328.1 878.7 325.8 880.3 325.3" fill="none" stroke="#5c5c5c" stroke-width="3.6"/>
<path d="M778.7 337.5C779 338.5 778.2 342.9 780.8 345C783.5 347.1 793 352.7 798.3 353.3C803.7 354 815 351.7 820.8 350C826.7 348.3 837.7 342.5 842 340.3C846.3 338.2 849.8 335.2 853.3 333.7C856.8 332.2 864.7 330.3 868.3 329.2C871.9 328.1 878.7 325.8 880.3 325.3" fill="none" stroke="#a2a2a2" stroke-width="1.5"/>
<path d="M778.7 338.3C779 337.6 779.5 334.1 780.8 332.5C782.1 330.9 785 328.8 788.3 326.3C791.7 323.9 803.5 315.8 805.8 314.2" fill="none" stroke="#6a6a6a" stroke-width="1.4"/>
<path d="M793.3 346.7C794.7 347.2 800 350.2 803.3 350.3C806.7 350.4 816.3 347.9 818.3 347.5" fill="none" stroke="#c6c6c6" stroke-width="1.6" stroke-linecap="round"/>
<path d="M822.5 348.3C823.7 347.9 829.2 346.2 831.7 345C834.1 343.8 839.6 339.9 840.8 339.2" fill="none" stroke="#b4b4b4" stroke-width="1.4" stroke-linecap="round"/>
<path d="M855 325.8C856.2 324.8 862.6 323.1 865 322.5C867.4 321.9 872.1 321.3 873.3 321.7C874.6 322 875.3 324.3 874.2 325C873.1 325.7 867.4 326 865 326.7C862.6 327.3 857.2 330.1 855.8 330C854.5 329.9 853.8 326.8 855 325.8Z" fill="#cfcfcf"/>
<ellipse cx="847.5" cy="301.7" rx="18" ry="10.5" fill="#b8b8b8" stroke="#7e7e7e" stroke-width="1"/>
<ellipse cx="847.2" cy="302.2" rx="13" ry="7.5" fill="#9a9a9a" stroke="#808080" stroke-width=".8"/>
<ellipse cx="846.7" cy="303.0" rx="10" ry="6" fill="url(#tkN)"/>
<path d="M847 291.5V296 M847 299V306" stroke="#efefef" stroke-width="1.6" fill="none"/>
<path d="M805.8 308.3C806.7 307.2 811 304.8 812.5 304.7C814 304.5 816.6 306.2 817 307C817.4 307.8 816.9 309.9 815.8 310.8C814.8 311.8 810.4 313.9 809.2 314.2C807.9 314.5 806.8 313.8 806.3 313C805.9 312.2 805 309.4 805.8 308.3Z" fill="#8a8a8a"/>
<path d="M795 431.7C797.8 429.7 818.6 429.4 821.3 430C824.1 430.6 823.1 436 822.5 437.5C821.9 439 816.6 443.4 815 445C813.4 446.6 807.7 452 806.7 453.3C805.7 454.7 805.6 457.9 805 458.3C804.4 458.8 801.8 457.9 800.8 457.5C799.8 457.1 795.8 454.9 795 454.2C794.2 453.4 793.3 452.2 793.3 450C793.3 447.8 792.2 433.7 795 431.7Z" fill="#a8a8a8"/>
<path d="M798.3 433.3C799 431.5 804.3 431.2 805 433C805.7 434.8 805.7 449.8 805 451.7C804.3 453.5 799 453.5 798.3 451.7C797.7 449.8 797.7 435.2 798.3 433.3Z" fill="#c4c4c4"/>
<ellipse cx="797.5" cy="451.7" rx="5" ry="4.5" fill="#bdbdbd" stroke="#8c8c8c" stroke-width=".7"/>
<ellipse cx="818.0" cy="439.7" rx="6.5" ry="7.5" fill="#707070" transform="rotate(35 818.0 439.7)"/>
<ellipse cx="815.8" cy="441.7" rx="3" ry="6" fill="#b0b0b0" transform="rotate(35 815.8 441.7)"/>
</g>
<!-- 40_h16.svg -->
<g id="h16">
<path d="M903.5 632.8C905.8 632.9 911.7 632.9 917.5 633.6C923.3 634.4 932.1 635.5 938.5 637.1C944.9 638.7 951 640.5 956 643.2C961 646 965.6 650 968.2 653.8C970.9 657.5 972.2 661.6 972.1 666C972 670.4 969.6 675.3 967.4 680C965.1 684.7 961.2 689 958.6 694C956 699 955 704.8 951.6 709.8C948.3 714.7 944.2 719.1 938.5 723.8C932.8 728.4 924.5 733.1 917.5 737.8C910.5 742.4 902.6 747.7 896.5 751.8C890.4 755.8 884.8 759.5 880.8 762.2C876.7 765 873.5 767.4 872 768.4" fill="none" stroke="#2aa92a" stroke-width="24.5" stroke-linecap="round" stroke-linejoin="round"/><path d="M903.5 632.8C905.8 632.9 911.7 632.9 917.5 633.6C923.3 634.4 932.1 635.5 938.5 637.1C944.9 638.7 951 640.5 956 643.2C961 646 965.6 650 968.2 653.8C970.9 657.5 972.2 661.6 972.1 666C972 670.4 969.6 675.3 967.4 680C965.1 684.7 961.2 689 958.6 694C956 699 955 704.8 951.6 709.8C948.3 714.7 944.2 719.1 938.5 723.8C932.8 728.4 924.5 733.1 917.5 737.8C910.5 742.4 902.6 747.7 896.5 751.8C890.4 755.8 884.8 759.5 880.8 762.2C876.7 765 873.5 767.4 872 768.4" fill="none" stroke="#3fbe3f" stroke-width="21.1" stroke-linecap="round" stroke-linejoin="round"/><path d="M903.5 632.8C905.8 632.9 911.7 632.9 917.5 633.6C923.3 634.4 932.1 635.5 938.5 637.1C944.9 638.7 951 640.5 956 643.2C961 646 965.6 650 968.2 653.8C970.9 657.5 972.2 661.6 972.1 666C972 670.4 969.6 675.3 967.4 680C965.1 684.7 961.2 689 958.6 694C956 699 955 704.8 951.6 709.8C948.3 714.7 944.2 719.1 938.5 723.8C932.8 728.4 924.5 733.1 917.5 737.8C910.5 742.4 902.6 747.7 896.5 751.8C890.4 755.8 884.8 759.5 880.8 762.2C876.7 765 873.5 767.4 872 768.4" fill="none" stroke="#54cb54" stroke-width="12.2" stroke-linecap="round" stroke-linejoin="round" transform="translate(-1.0 -1.0)"/><path d="M903.5 632.8C905.8 632.9 911.7 632.9 917.5 633.6C923.3 634.4 932.1 635.5 938.5 637.1C944.9 638.7 951 640.5 956 643.2C961 646 965.6 650 968.2 653.8C970.9 657.5 972.2 661.6 972.1 666C972 670.4 969.6 675.3 967.4 680C965.1 684.7 961.2 689 958.6 694C956 699 955 704.8 951.6 709.8C948.3 714.7 944.2 719.1 938.5 723.8C932.8 728.4 924.5 733.1 917.5 737.8C910.5 742.4 902.6 747.7 896.5 751.8C890.4 755.8 884.8 759.5 880.8 762.2C876.7 765 873.5 767.4 872 768.4" fill="none" stroke="#92e592" stroke-width="3.9" stroke-linecap="round" stroke-linejoin="round" opacity="0.50" transform="translate(-1.5 -1.5)"/>
<rect x="887.6" y="617.8" width="11.5" height="30" fill="#fff"/>
<ellipse cx="902.1" cy="632.8" rx="4.5" ry="13.0" fill="#48c648" stroke="#2fae2f" stroke-width="1.2" transform="rotate(-4 902.1 632.8)" />
<ellipse cx="903.1" cy="632.8" rx="2.5" ry="10.0" fill="#66d666" transform="rotate(-4 903.1 632.8)" />
<ellipse cx="912.2" cy="633.1" rx="2.0" ry="12.3" fill="none" stroke="#2aa52a" stroke-width="1.0" transform="rotate(-5 912.2 633.1)" />
<ellipse cx="921.9" cy="634.1" rx="2.0" ry="12.3" fill="none" stroke="#2aa52a" stroke-width="1.0" transform="rotate(-2 921.9 634.1)" />
<ellipse cx="936.8" cy="636.8" rx="2.0" ry="12.3" fill="none" stroke="#2aa52a" stroke-width="1.0" transform="rotate(5 936.8 636.8)" />
<ellipse cx="965.1" cy="683.5" rx="12.0" ry="2.5" fill="none" stroke="#259f25" stroke-width="1.1" transform="rotate(28 965.1 683.5)" />
<ellipse cx="959.9" cy="692.2" rx="11.5" ry="2.5" fill="none" stroke="#259f25" stroke-width="1.1" transform="rotate(28 959.9 692.2)" />
<ellipse cx="953.9" cy="701.9" rx="12.5" ry="2.5" fill="none" stroke="#259f25" stroke-width="1.1" transform="rotate(28 953.9 701.9)" />
<ellipse cx="951.3" cy="708.4" rx="12.0" ry="2.5" fill="none" stroke="#259f25" stroke-width="1.1" transform="rotate(28 951.3 708.4)" />
<path d="M976.1 680.9C976.9 679.9 980.5 680.2 980.9 681.8C981.2 683.3 979.8 690.4 978.8 692.2C977.7 694.1 973.7 695.8 972.6 695.8C971.6 695.8 970.5 693.2 970.9 692.2C971.2 691.3 974.5 690.3 975.2 688.8C976 687.2 975.4 681.8 976.1 680.9Z" fill="#48c448" stroke="#2aa52a" stroke-width=".8"/>
<path d="M965.6 707.1C966.1 706.7 968.8 707.4 969.1 708C969.5 708.6 968.7 711 968.2 711.5C967.8 712 966 712.1 965.6 711.5C965.3 710.9 965.2 707.6 965.6 707.1Z" fill="#48c448"/>
<path d="M889.5 770.1C887.5 771 881.3 773.2 877.2 775.4C873.2 777.6 868.5 780.6 865 783.2C861.5 785.9 859 788.8 856.2 791.1C853.5 793.5 849.7 796.2 848.4 797.2" fill="none" stroke="#2aa92a" stroke-width="25.0" stroke-linecap="round" stroke-linejoin="round"/><path d="M889.5 770.1C887.5 771 881.3 773.2 877.2 775.4C873.2 777.6 868.5 780.6 865 783.2C861.5 785.9 859 788.8 856.2 791.1C853.5 793.5 849.7 796.2 848.4 797.2" fill="none" stroke="#3fbe3f" stroke-width="21.5" stroke-linecap="round" stroke-linejoin="round"/><path d="M889.5 770.1C887.5 771 881.3 773.2 877.2 775.4C873.2 777.6 868.5 780.6 865 783.2C861.5 785.9 859 788.8 856.2 791.1C853.5 793.5 849.7 796.2 848.4 797.2" fill="none" stroke="#54cb54" stroke-width="12.5" stroke-linecap="round" stroke-linejoin="round" transform="translate(-1.0 -1.0)"/><path d="M889.5 770.1C887.5 771 881.3 773.2 877.2 775.4C873.2 777.6 868.5 780.6 865 783.2C861.5 785.9 859 788.8 856.2 791.1C853.5 793.5 849.7 796.2 848.4 797.2" fill="none" stroke="#92e592" stroke-width="4.0" stroke-linecap="round" stroke-linejoin="round" opacity="0.50" transform="translate(-1.5 -1.5)"/>
<ellipse cx="845.4" cy="799.9" rx="7.5" ry="12.8" fill="#4fc94f" stroke="#2fae2f" stroke-width="1.2" transform="rotate(-45 845.4 799.9)" />
<ellipse cx="845.9" cy="800.2" rx="4.5" ry="9.5" fill="#2fae2f" transform="rotate(-45 845.9 800.2)" />
<ellipse cx="846.9" cy="800.9" rx="3.0" ry="7.0" fill="#49c449" transform="rotate(-45 846.9 800.9)" />
<ellipse cx="867.6" cy="784.1" rx="3.0" ry="12.3" fill="none" stroke="#2ca82c" stroke-width="1.1" transform="rotate(-40 867.6 784.1)" />
<ellipse cx="858.9" cy="791.6" rx="3.0" ry="12.3" fill="none" stroke="#2ca82c" stroke-width="1.1" transform="rotate(-40 858.9 791.6)" />
<path d="M843.1 776.2C843.9 776.7 846.2 777.9 847.5 778.9C848.8 779.9 850.4 781.8 851 782.4" fill="none" stroke="#5fd05f" stroke-width="1"/>
</g>
<!-- 41_h17.svg -->
<g id="h17">
<path d="M1118.6 803.2C1121.1 804.2 1128 807.6 1133.8 808.8C1139.5 809.9 1146.6 810.7 1153 810.1C1159.4 809.6 1167 805.3 1172.2 805.5C1177.5 805.6 1182.2 807.7 1184.6 811C1187 814.2 1188.2 819.7 1186.5 825.2C1184.9 830.8 1179.7 837.6 1175 844.5C1170.3 851.4 1163.1 859.6 1158.5 866.5C1153.9 873.4 1150 879.3 1147.5 885.8C1145 892.2 1144.8 900 1143.4 905C1142 910 1139.9 914.2 1139.2 916" fill="none" stroke="#2aa92a" stroke-width="25.5" stroke-linecap="butt" stroke-linejoin="round"/><path d="M1118.6 803.2C1121.1 804.2 1128 807.6 1133.8 808.8C1139.5 809.9 1146.6 810.7 1153 810.1C1159.4 809.6 1167 805.3 1172.2 805.5C1177.5 805.6 1182.2 807.7 1184.6 811C1187 814.2 1188.2 819.7 1186.5 825.2C1184.9 830.8 1179.7 837.6 1175 844.5C1170.3 851.4 1163.1 859.6 1158.5 866.5C1153.9 873.4 1150 879.3 1147.5 885.8C1145 892.2 1144.8 900 1143.4 905C1142 910 1139.9 914.2 1139.2 916" fill="none" stroke="#3fbe3f" stroke-width="21.9" stroke-linecap="butt" stroke-linejoin="round"/><path d="M1118.6 803.2C1121.1 804.2 1128 807.6 1133.8 808.8C1139.5 809.9 1146.6 810.7 1153 810.1C1159.4 809.6 1167 805.3 1172.2 805.5C1177.5 805.6 1182.2 807.7 1184.6 811C1187 814.2 1188.2 819.7 1186.5 825.2C1184.9 830.8 1179.7 837.6 1175 844.5C1170.3 851.4 1163.1 859.6 1158.5 866.5C1153.9 873.4 1150 879.3 1147.5 885.8C1145 892.2 1144.8 900 1143.4 905C1142 910 1139.9 914.2 1139.2 916" fill="none" stroke="#54cb54" stroke-width="12.8" stroke-linecap="butt" stroke-linejoin="round" transform="translate(-0.5 1.0)"/><path d="M1118.6 803.2C1121.1 804.2 1128 807.6 1133.8 808.8C1139.5 809.9 1146.6 810.7 1153 810.1C1159.4 809.6 1167 805.3 1172.2 805.5C1177.5 805.6 1182.2 807.7 1184.6 811C1187 814.2 1188.2 819.7 1186.5 825.2C1184.9 830.8 1179.7 837.6 1175 844.5C1170.3 851.4 1163.1 859.6 1158.5 866.5C1153.9 873.4 1150 879.3 1147.5 885.8C1145 892.2 1144.8 900 1143.4 905C1142 910 1139.9 914.2 1139.2 916" fill="none" stroke="#92e592" stroke-width="4.1" stroke-linecap="round" stroke-linejoin="round" opacity="0.50" transform="translate(-0.8 1.5)"/>
<ellipse cx="1115.3" cy="802.1" rx="4.0" ry="12.5" fill="#49c549" stroke="#2fae2f" stroke-width="1.0" transform="rotate(22 1115.3 802.1)" />
<ellipse cx="1116.1" cy="802.5" rx="2.3" ry="9.5" fill="#2aa52a" transform="rotate(22 1116.1 802.5)" />
<path d="M1121.4 911.9C1120.8 908.7 1128.4 904.3 1131 905C1133.6 905.7 1146.1 916 1147.5 918.8C1148.9 921.5 1145.8 930.7 1144.8 932.5C1143.7 934.3 1138.8 938.7 1136.5 936.6C1134.2 934.6 1121.9 915 1121.4 911.9Z" fill="#2fae2f"/>
<path d="M1135.1 929.8C1135.7 928.7 1140.9 925.6 1142 925.6C1143.1 925.6 1146.1 928.8 1146.1 929.8C1146.1 930.7 1143 934.6 1142 935.2C1141 935.9 1137.2 936.3 1136.5 935.8C1135.8 935.2 1134.6 930.8 1135.1 929.8Z" fill="#55cc55"/>
<path d="M1133.8 917.4C1131.5 919.4 1125 924.9 1120 929.8C1115 934.6 1108.9 939.8 1103.5 946.2C1098.1 952.7 1091.3 961.4 1087.5 968.2C1083.8 975.1 1081 981.1 1081 987.5C1080.9 993.9 1085.8 1000.8 1087 1006.8C1088.2 1012.7 1089.7 1018.2 1088.4 1023.2C1087.1 1028.3 1082.2 1033.4 1079.3 1037C1076.4 1040.6 1072.4 1043.4 1071 1044.7" fill="none" stroke="#239f23" stroke-width="25.0" stroke-linecap="butt" stroke-linejoin="round"/><path d="M1133.8 917.4C1131.5 919.4 1125 924.9 1120 929.8C1115 934.6 1108.9 939.8 1103.5 946.2C1098.1 952.7 1091.3 961.4 1087.5 968.2C1083.8 975.1 1081 981.1 1081 987.5C1080.9 993.9 1085.8 1000.8 1087 1006.8C1088.2 1012.7 1089.7 1018.2 1088.4 1023.2C1087.1 1028.3 1082.2 1033.4 1079.3 1037C1076.4 1040.6 1072.4 1043.4 1071 1044.7" fill="none" stroke="#3dbc3d" stroke-width="21.5" stroke-linecap="butt" stroke-linejoin="round"/><path d="M1133.8 917.4C1131.5 919.4 1125 924.9 1120 929.8C1115 934.6 1108.9 939.8 1103.5 946.2C1098.1 952.7 1091.3 961.4 1087.5 968.2C1083.8 975.1 1081 981.1 1081 987.5C1080.9 993.9 1085.8 1000.8 1087 1006.8C1088.2 1012.7 1089.7 1018.2 1088.4 1023.2C1087.1 1028.3 1082.2 1033.4 1079.3 1037C1076.4 1040.6 1072.4 1043.4 1071 1044.7" fill="none" stroke="#74d974" stroke-width="12.5" stroke-linecap="butt" stroke-linejoin="round" transform="translate(-3.0 -0.8)"/><path d="M1133.8 917.4C1131.5 919.4 1125 924.9 1120 929.8C1115 934.6 1108.9 939.8 1103.5 946.2C1098.1 952.7 1091.3 961.4 1087.5 968.2C1083.8 975.1 1081 981.1 1081 987.5C1080.9 993.9 1085.8 1000.8 1087 1006.8C1088.2 1012.7 1089.7 1018.2 1088.4 1023.2C1087.1 1028.3 1082.2 1033.4 1079.3 1037C1076.4 1040.6 1072.4 1043.4 1071 1044.7" fill="none" stroke="#d4f7d4" stroke-width="4.0" stroke-linecap="round" stroke-linejoin="round" opacity="0.85" transform="translate(-4.5 -1.2)"/>
<ellipse cx="1128.8" cy="917.4" rx="13.0" ry="3.5" fill="none" stroke="#8ee08e" stroke-width="1.2" transform="rotate(42 1128.8 917.4)" />
</g>
<!-- 50_gray.svg -->
<g id="gray">
<path d="M986.2 281.2C988.5 280 994.7 276.5 1000 273.8C1005.3 271 1015 266.5 1018 265" fill="none" stroke="#d2d2d2" stroke-width="10.0" stroke-linecap="round" stroke-linejoin="round"/><path d="M986.2 281.2C988.5 280 994.7 276.5 1000 273.8C1005.3 271 1015 266.5 1018 265" fill="none" stroke="#dedede" stroke-width="8.6" stroke-linecap="round" stroke-linejoin="round"/><path d="M986.2 281.2C988.5 280 994.7 276.5 1000 273.8C1005.3 271 1015 266.5 1018 265" fill="none" stroke="#e8e8e8" stroke-width="5.0" stroke-linecap="round" stroke-linejoin="round" transform="translate(0.0 0.0)"/>
<path d="M997.5 275.5 L1003.8 272" fill="none" stroke="#d2d2d2" stroke-width="12.0" stroke-linecap="butt" stroke-linejoin="round"/><path d="M997.5 275.5 L1003.8 272" fill="none" stroke="#dedede" stroke-width="10.3" stroke-linecap="butt" stroke-linejoin="round"/><path d="M997.5 275.5 L1003.8 272" fill="none" stroke="#e8e8e8" stroke-width="6.0" stroke-linecap="butt" stroke-linejoin="round" transform="translate(0.0 0.0)"/>
<path d="M1073 230.5C1074.9 229.9 1079 227 1082.5 227.5C1086 228 1088.9 230.2 1090.5 233C1092.1 235.8 1091.2 238.4 1090.5 241.2C1089.8 244.1 1087.7 245.8 1087 247" fill="none" stroke="#707070" stroke-width="10.5" stroke-linecap="butt" stroke-linejoin="round"/><path d="M1073 230.5C1074.9 229.9 1079 227 1082.5 227.5C1086 228 1088.9 230.2 1090.5 233C1092.1 235.8 1091.2 238.4 1090.5 241.2C1089.8 244.1 1087.7 245.8 1087 247" fill="none" stroke="#8c8c8c" stroke-width="9.0" stroke-linecap="butt" stroke-linejoin="round"/><path d="M1073 230.5C1074.9 229.9 1079 227 1082.5 227.5C1086 228 1088.9 230.2 1090.5 233C1092.1 235.8 1091.2 238.4 1090.5 241.2C1089.8 244.1 1087.7 245.8 1087 247" fill="none" stroke="#a6a6a6" stroke-width="5.2" stroke-linecap="butt" stroke-linejoin="round" transform="translate(0.0 0.0)"/><path d="M1073 230.5C1074.9 229.9 1079 227 1082.5 227.5C1086 228 1088.9 230.2 1090.5 233C1092.1 235.8 1091.2 238.4 1090.5 241.2C1089.8 244.1 1087.7 245.8 1087 247" fill="none" stroke="#d2d2d2" stroke-width="1.7" stroke-linecap="round" stroke-linejoin="round" opacity="0.50" transform="translate(0.0 0.0)"/>
<ellipse cx="1072.8" cy="230.8" rx="2.3" ry="5.0" fill="#8a8a8a" stroke="#666" stroke-width="0.8" transform="rotate(20 1072.8 230.8)" />
<ellipse cx="1086.8" cy="247.5" rx="5.0" ry="2.6" fill="#b8b8b8" stroke="#707070" stroke-width="0.8" transform="rotate(22 1086.8 247.5)" />
<ellipse cx="1041.2" cy="248.0" rx="4.5" ry="5.5" fill="none" stroke="#777" stroke-width="1.8" transform="rotate(-20 1041.2 248.0)" />
<path d="M1043.2 246.0 l5 3 l-1 3" fill="none" stroke="#777" stroke-width="1.5"/>
<ellipse cx="1079.5" cy="267.0" rx="7.5" ry="5.5" fill="none" stroke="#8a8a8a" stroke-width="2.2" transform="rotate(10 1079.5 267.0)" />
<ellipse cx="1079.5" cy="268.5" rx="7.5" ry="5.0" fill="none" stroke="#b5b5b5" stroke-width="1.0" transform="rotate(10 1079.5 268.5)" />
<path d="M1083.5 263.0 l5 -1 l2 4" fill="none" stroke="#888" stroke-width="1.4"/>
<path d="M1068.5 296C1067.5 297.7 1064.3 303.1 1062.5 306.2C1060.7 309.4 1058.3 313.5 1057.5 315" fill="none" stroke="#888888" stroke-width="11.0" stroke-linecap="round" stroke-linejoin="round"/><path d="M1068.5 296C1067.5 297.7 1064.3 303.1 1062.5 306.2C1060.7 309.4 1058.3 313.5 1057.5 315" fill="none" stroke="#a6a6a6" stroke-width="9.5" stroke-linecap="round" stroke-linejoin="round"/><path d="M1068.5 296C1067.5 297.7 1064.3 303.1 1062.5 306.2C1060.7 309.4 1058.3 313.5 1057.5 315" fill="none" stroke="#bababa" stroke-width="5.5" stroke-linecap="round" stroke-linejoin="round" transform="translate(0.0 0.0)"/><path d="M1068.5 296C1067.5 297.7 1064.3 303.1 1062.5 306.2C1060.7 309.4 1058.3 313.5 1057.5 315" fill="none" stroke="#d8d8d8" stroke-width="1.8" stroke-linecap="round" stroke-linejoin="round" opacity="0.50" transform="translate(0.0 0.0)"/>
<ellipse cx="1066.2" cy="300.0" rx="6.5" ry="2.0" fill="none" stroke="#6e6e6e" stroke-width="1.1" transform="rotate(25 1066.2 300.0)" />
<ellipse cx="1062.0" cy="307.5" rx="6.5" ry="2.0" fill="none" stroke="#6e6e6e" stroke-width="1.1" transform="rotate(25 1062.0 307.5)" />
<ellipse cx="1058.8" cy="313.0" rx="6.5" ry="2.0" fill="none" stroke="#6e6e6e" stroke-width="1.1" transform="rotate(25 1058.8 313.0)" />
<ellipse cx="1069.5" cy="293.8" rx="5.0" ry="2.8" fill="#dcdcdc" stroke="#6a6a6a" stroke-width="1.0" transform="rotate(25 1069.5 293.8)" />
<ellipse cx="1045.0" cy="344.5" rx="7.5" ry="5.5" fill="none" stroke="#8a8a8a" stroke-width="2.2" transform="rotate(10 1045.0 344.5)" />
<ellipse cx="1045.0" cy="346.0" rx="7.5" ry="5.0" fill="none" stroke="#b5b5b5" stroke-width="1.0" transform="rotate(10 1045.0 346.0)" />
<path d="M1049.0 340.5 l5 -1 l2 4" fill="none" stroke="#888" stroke-width="1.4"/>
<ellipse cx="1120.0" cy="268.8" rx="7.0" ry="6.0" fill="none" stroke="#7e7e7e" stroke-width="2.2" transform="rotate(20 1120.0 268.8)" />
<path d="M1114.0 264.8 l6 -3 l9 5 l-2 5" fill="none" stroke="#808080" stroke-width="1.6"/>
<path d="M1161.2 248C1162.8 246.7 1165.5 242.2 1168.8 241.2C1172 240.2 1174.5 240.3 1177.5 243C1180.5 245.7 1183.3 248.6 1183.8 254.5C1184.2 260.4 1181.3 265.4 1179.5 272.5C1177.7 279.6 1176 283 1174.5 290C1173 297 1172.5 304 1172 307.5" fill="none" stroke="#888888" stroke-width="13.0" stroke-linecap="butt" stroke-linejoin="round"/><path d="M1161.2 248C1162.8 246.7 1165.5 242.2 1168.8 241.2C1172 240.2 1174.5 240.3 1177.5 243C1180.5 245.7 1183.3 248.6 1183.8 254.5C1184.2 260.4 1181.3 265.4 1179.5 272.5C1177.7 279.6 1176 283 1174.5 290C1173 297 1172.5 304 1172 307.5" fill="none" stroke="#a6a6a6" stroke-width="11.2" stroke-linecap="butt" stroke-linejoin="round"/><path d="M1161.2 248C1162.8 246.7 1165.5 242.2 1168.8 241.2C1172 240.2 1174.5 240.3 1177.5 243C1180.5 245.7 1183.3 248.6 1183.8 254.5C1184.2 260.4 1181.3 265.4 1179.5 272.5C1177.7 279.6 1176 283 1174.5 290C1173 297 1172.5 304 1172 307.5" fill="none" stroke="#bababa" stroke-width="6.5" stroke-linecap="butt" stroke-linejoin="round" transform="translate(-0.5 0.0)"/><path d="M1161.2 248C1162.8 246.7 1165.5 242.2 1168.8 241.2C1172 240.2 1174.5 240.3 1177.5 243C1180.5 245.7 1183.3 248.6 1183.8 254.5C1184.2 260.4 1181.3 265.4 1179.5 272.5C1177.7 279.6 1176 283 1174.5 290C1173 297 1172.5 304 1172 307.5" fill="none" stroke="#d8d8d8" stroke-width="2.1" stroke-linecap="round" stroke-linejoin="round" opacity="0.50" transform="translate(-0.8 0.0)"/>
<ellipse cx="1159.5" cy="249.0" rx="3.0" ry="5.0" fill="#8c8c8c" stroke="#5a5a5a" stroke-width="0.8" transform="rotate(35 1159.5 249.0)" />
<path d="M1172 306.2C1171.3 310 1170 318.2 1168.8 325C1167.5 331.8 1164.8 335 1165.5 340C1166.2 345 1172.8 346.4 1172.5 350C1172.2 353.6 1166.8 355.8 1163.8 358C1160.8 360.2 1158.8 360.6 1157.5 361.2" fill="none" stroke="#666666" stroke-width="13.0" stroke-linecap="butt" stroke-linejoin="round"/><path d="M1172 306.2C1171.3 310 1170 318.2 1168.8 325C1167.5 331.8 1164.8 335 1165.5 340C1166.2 345 1172.8 346.4 1172.5 350C1172.2 353.6 1166.8 355.8 1163.8 358C1160.8 360.2 1158.8 360.6 1157.5 361.2" fill="none" stroke="#7c7c7c" stroke-width="11.2" stroke-linecap="butt" stroke-linejoin="round"/><path d="M1172 306.2C1171.3 310 1170 318.2 1168.8 325C1167.5 331.8 1164.8 335 1165.5 340C1166.2 345 1172.8 346.4 1172.5 350C1172.2 353.6 1166.8 355.8 1163.8 358C1160.8 360.2 1158.8 360.6 1157.5 361.2" fill="none" stroke="#8c8c8c" stroke-width="6.5" stroke-linecap="butt" stroke-linejoin="round" transform="translate(0.0 0.0)"/><path d="M1172 306.2C1171.3 310 1170 318.2 1168.8 325C1167.5 331.8 1164.8 335 1165.5 340C1166.2 345 1172.8 346.4 1172.5 350C1172.2 353.6 1166.8 355.8 1163.8 358C1160.8 360.2 1158.8 360.6 1157.5 361.2" fill="none" stroke="#a6a6a6" stroke-width="2.1" stroke-linecap="round" stroke-linejoin="round" opacity="0.35" transform="translate(0.0 0.0)"/>
<ellipse cx="1153.8" cy="362.5" rx="5.0" ry="7.5" fill="#b8b8b8" stroke="#555" stroke-width="1.0" transform="rotate(20 1153.8 362.5)" />
<ellipse cx="1156.8" cy="361.5" rx="4.5" ry="7.0" fill="none" stroke="#4c4c4c" stroke-width="1.0" transform="rotate(20 1156.8 361.5)" />
<ellipse cx="1159.8" cy="360.0" rx="4.5" ry="7.0" fill="none" stroke="#5c5c5c" stroke-width="1.0" transform="rotate(20 1159.8 360.0)" />
<ellipse cx="1153.8" cy="362.5" rx="2.5" ry="4.5" fill="#e4e4e4" transform="rotate(20 1153.8 362.5)" />
<path d="M1030.8 376.2C1029.7 379 1028.4 385.4 1025.5 390C1022.6 394.6 1021.1 396.4 1016.2 399.5C1011.4 402.6 1004.2 404.3 1001.2 405.5" fill="none" stroke="#888888" stroke-width="11.5" stroke-linecap="butt" stroke-linejoin="round"/><path d="M1030.8 376.2C1029.7 379 1028.4 385.4 1025.5 390C1022.6 394.6 1021.1 396.4 1016.2 399.5C1011.4 402.6 1004.2 404.3 1001.2 405.5" fill="none" stroke="#a6a6a6" stroke-width="9.9" stroke-linecap="butt" stroke-linejoin="round"/><path d="M1030.8 376.2C1029.7 379 1028.4 385.4 1025.5 390C1022.6 394.6 1021.1 396.4 1016.2 399.5C1011.4 402.6 1004.2 404.3 1001.2 405.5" fill="none" stroke="#bababa" stroke-width="5.8" stroke-linecap="butt" stroke-linejoin="round" transform="translate(0.0 0.0)"/><path d="M1030.8 376.2C1029.7 379 1028.4 385.4 1025.5 390C1022.6 394.6 1021.1 396.4 1016.2 399.5C1011.4 402.6 1004.2 404.3 1001.2 405.5" fill="none" stroke="#d8d8d8" stroke-width="1.8" stroke-linecap="round" stroke-linejoin="round" opacity="0.50" transform="translate(0.0 0.0)"/>
<ellipse cx="1031.0" cy="375.2" rx="5.5" ry="3.0" fill="#c4c4c4" stroke="#6a6a6a" stroke-width="0.9" transform="rotate(15 1031.0 375.2)" />
<path d="M1003.8 404.5C1002 405.6 998.8 408.9 995 410C991.2 411.1 987 410 985 410" fill="none" stroke="#666666" stroke-width="12.5" stroke-linecap="round" stroke-linejoin="round"/><path d="M1003.8 404.5C1002 405.6 998.8 408.9 995 410C991.2 411.1 987 410 985 410" fill="none" stroke="#7c7c7c" stroke-width="10.8" stroke-linecap="round" stroke-linejoin="round"/><path d="M1003.8 404.5C1002 405.6 998.8 408.9 995 410C991.2 411.1 987 410 985 410" fill="none" stroke="#8c8c8c" stroke-width="6.2" stroke-linecap="round" stroke-linejoin="round" transform="translate(0.0 0.0)"/><path d="M1003.8 404.5C1002 405.6 998.8 408.9 995 410C991.2 411.1 987 410 985 410" fill="none" stroke="#a6a6a6" stroke-width="2.0" stroke-linecap="round" stroke-linejoin="round" opacity="0.30" transform="translate(0.0 0.0)"/>
<ellipse cx="983.8" cy="408.0" rx="4.5" ry="7.0" fill="#8a8a8a" stroke="#4e4e4e" stroke-width="1.0" transform="rotate(-5 983.8 408.0)" />
<ellipse cx="986.8" cy="408.0" rx="4.5" ry="7.0" fill="none" stroke="#555" stroke-width="0.9" transform="rotate(-5 986.8 408.0)" />
<ellipse cx="1005.0" cy="404.5" rx="2.0" ry="6.3" fill="none" stroke="#555" stroke-width="1.0" transform="rotate(-25 1005.0 404.5)" />
<ellipse cx="1010.0" cy="402.0" rx="2.0" ry="6.3" fill="none" stroke="#555" stroke-width="1.0" transform="rotate(-25 1010.0 402.0)" />
<path d="M1173.3 432C1171 434.2 1163 441.1 1159.2 445.3C1155.4 449.6 1151.6 453.3 1150.7 457.3C1149.7 461.3 1150.2 461.1 1153.3 469.3C1156.4 477.6 1164 494.2 1169.3 506.7C1174.7 519.1 1182.7 537.8 1185.3 544" fill="none" stroke="#888888" stroke-width="12.5" stroke-linecap="butt" stroke-linejoin="round"/><path d="M1173.3 432C1171 434.2 1163 441.1 1159.2 445.3C1155.4 449.6 1151.6 453.3 1150.7 457.3C1149.7 461.3 1150.2 461.1 1153.3 469.3C1156.4 477.6 1164 494.2 1169.3 506.7C1174.7 519.1 1182.7 537.8 1185.3 544" fill="none" stroke="#a6a6a6" stroke-width="10.8" stroke-linecap="butt" stroke-linejoin="round"/><path d="M1173.3 432C1171 434.2 1163 441.1 1159.2 445.3C1155.4 449.6 1151.6 453.3 1150.7 457.3C1149.7 461.3 1150.2 461.1 1153.3 469.3C1156.4 477.6 1164 494.2 1169.3 506.7C1174.7 519.1 1182.7 537.8 1185.3 544" fill="none" stroke="#bababa" stroke-width="6.2" stroke-linecap="butt" stroke-linejoin="round" transform="translate(-0.5 0.0)"/><path d="M1173.3 432C1171 434.2 1163 441.1 1159.2 445.3C1155.4 449.6 1151.6 453.3 1150.7 457.3C1149.7 461.3 1150.2 461.1 1153.3 469.3C1156.4 477.6 1164 494.2 1169.3 506.7C1174.7 519.1 1182.7 537.8 1185.3 544" fill="none" stroke="#d8d8d8" stroke-width="2.0" stroke-linecap="round" stroke-linejoin="round" opacity="0.50" transform="translate(-0.8 0.0)"/>
<path d="M1165.3 425.3C1166.1 423.8 1168.7 418 1170.7 418.1C1172.6 418.3 1183.9 425 1184.8 426.7C1185.7 428.3 1181.1 433.3 1180 434.7C1178.9 436 1175.1 440.1 1173.3 440C1171.6 439.9 1163.5 434.8 1162.7 433.3C1161.9 431.9 1164.5 426.9 1165.3 425.3Z" fill="#a4a4a4" stroke="#666" stroke-width=".9"/>
<path d="M1168 421.3 L1181.3 430.7" fill="none" stroke="#666" stroke-width=".9"/>
<path d="M1183.2 428 L1188 432 L1185.3 436" fill="none" stroke="#666" stroke-width=".9"/>
<path d="M1185.3 544C1186.3 546.7 1190.1 555.1 1191.2 560C1192.3 564.9 1193.1 568.7 1192 573.3C1190.9 578 1186.9 583.8 1184.8 588C1182.7 592.2 1180.4 596.9 1179.5 598.7" fill="none" stroke="#666666" stroke-width="12.5" stroke-linecap="butt" stroke-linejoin="round"/><path d="M1185.3 544C1186.3 546.7 1190.1 555.1 1191.2 560C1192.3 564.9 1193.1 568.7 1192 573.3C1190.9 578 1186.9 583.8 1184.8 588C1182.7 592.2 1180.4 596.9 1179.5 598.7" fill="none" stroke="#7c7c7c" stroke-width="10.8" stroke-linecap="butt" stroke-linejoin="round"/><path d="M1185.3 544C1186.3 546.7 1190.1 555.1 1191.2 560C1192.3 564.9 1193.1 568.7 1192 573.3C1190.9 578 1186.9 583.8 1184.8 588C1182.7 592.2 1180.4 596.9 1179.5 598.7" fill="none" stroke="#8c8c8c" stroke-width="6.2" stroke-linecap="butt" stroke-linejoin="round" transform="translate(0.0 0.0)"/><path d="M1185.3 544C1186.3 546.7 1190.1 555.1 1191.2 560C1192.3 564.9 1193.1 568.7 1192 573.3C1190.9 578 1186.9 583.8 1184.8 588C1182.7 592.2 1180.4 596.9 1179.5 598.7" fill="none" stroke="#a6a6a6" stroke-width="2.0" stroke-linecap="round" stroke-linejoin="round" opacity="0.30" transform="translate(0.0 0.0)"/>
<path d="M1180.5 596 L1177.3 604" fill="none" stroke="#888888" stroke-width="13.5" stroke-linecap="butt" stroke-linejoin="round"/><path d="M1180.5 596 L1177.3 604" fill="none" stroke="#a6a6a6" stroke-width="11.6" stroke-linecap="butt" stroke-linejoin="round"/><path d="M1180.5 596 L1177.3 604" fill="none" stroke="#bababa" stroke-width="6.8" stroke-linecap="butt" stroke-linejoin="round" transform="translate(0.0 0.0)"/><path d="M1180.5 596 L1177.3 604" fill="none" stroke="#d8d8d8" stroke-width="2.2" stroke-linecap="round" stroke-linejoin="round" opacity="0.60" transform="translate(0.0 0.0)"/>
<path d="M1176.8 604C1176 606.9 1173.5 615.3 1172 621.3C1170.5 627.3 1169 632.4 1168 640C1167 647.6 1166.2 662.2 1165.9 666.7" fill="none" stroke="#666666" stroke-width="11.5" stroke-linecap="butt" stroke-linejoin="round"/><path d="M1176.8 604C1176 606.9 1173.5 615.3 1172 621.3C1170.5 627.3 1169 632.4 1168 640C1167 647.6 1166.2 662.2 1165.9 666.7" fill="none" stroke="#7c7c7c" stroke-width="9.9" stroke-linecap="butt" stroke-linejoin="round"/><path d="M1176.8 604C1176 606.9 1173.5 615.3 1172 621.3C1170.5 627.3 1169 632.4 1168 640C1167 647.6 1166.2 662.2 1165.9 666.7" fill="none" stroke="#8c8c8c" stroke-width="5.8" stroke-linecap="butt" stroke-linejoin="round" transform="translate(0.0 0.0)"/><path d="M1176.8 604C1176 606.9 1173.5 615.3 1172 621.3C1170.5 627.3 1169 632.4 1168 640C1167 647.6 1166.2 662.2 1165.9 666.7" fill="none" stroke="#a6a6a6" stroke-width="1.8" stroke-linecap="round" stroke-linejoin="round" opacity="0.30" transform="translate(0.0 0.0)"/>
<path d="M1166.1 666.1C1164.9 666.9 1162.1 669 1158.7 670.7C1155.2 672.3 1150.1 674.4 1145.3 676C1140.5 677.6 1132.4 679.8 1129.9 680.5" fill="none" stroke="#666666" stroke-width="11.0" stroke-linecap="round" stroke-linejoin="round"/><path d="M1166.1 666.1C1164.9 666.9 1162.1 669 1158.7 670.7C1155.2 672.3 1150.1 674.4 1145.3 676C1140.5 677.6 1132.4 679.8 1129.9 680.5" fill="none" stroke="#7c7c7c" stroke-width="9.5" stroke-linecap="round" stroke-linejoin="round"/><path d="M1166.1 666.1C1164.9 666.9 1162.1 669 1158.7 670.7C1155.2 672.3 1150.1 674.4 1145.3 676C1140.5 677.6 1132.4 679.8 1129.9 680.5" fill="none" stroke="#8c8c8c" stroke-width="5.5" stroke-linecap="round" stroke-linejoin="round" transform="translate(0.0 0.0)"/><path d="M1166.1 666.1C1164.9 666.9 1162.1 669 1158.7 670.7C1155.2 672.3 1150.1 674.4 1145.3 676C1140.5 677.6 1132.4 679.8 1129.9 680.5" fill="none" stroke="#a6a6a6" stroke-width="1.8" stroke-linecap="round" stroke-linejoin="round" opacity="0.30" transform="translate(0.0 0.0)"/>
<path d="M1159.2 662.7 L1175.2 665.3 L1173.3 676 L1157.3 673.3Z" fill="#c8c8c8" stroke="#6a6a6a" stroke-width=".9"/>
<path d="M1146.7 662.7 L1156 657.3 L1161.3 664 L1152 670.7Z" fill="#8e8e8e" stroke="#5e5e5e" stroke-width=".8"/>
<ellipse cx="1126.7" cy="680.5" rx="3.5" ry="5.5" fill="#b0b0b0" stroke="#5a5a5a" stroke-width="0.9" transform="rotate(10 1126.7 680.5)" />
<path d="M1152.8 583.5C1153.7 583.5 1158.1 583.4 1159.2 584C1160.3 584.6 1159.8 587.1 1160.8 588C1161.8 588.9 1164.5 589.1 1166.7 590.7C1168.9 592.3 1175.9 598.8 1177.3 600" fill="none" stroke="#7a7a7a" stroke-width="1.6"/>
<path d="M1148 592.5C1148.8 592.6 1152.8 592.2 1153.9 593.1C1154.9 593.9 1154.8 597.9 1156 598.7C1157.2 599.4 1161.2 599.7 1162.7 598.7C1164.1 597.6 1166.1 591.7 1166.7 590.7" fill="none" stroke="#7a7a7a" stroke-width="1.6"/>
</g>
<!-- 55_top.svg -->
<g id="top">
<path d="M877.5 106.8C878.8 106.2 891.6 99.9 893.2 99.3C894.9 98.7 895.1 98.1 897.8 99.6C900.4 101.1 922.4 114.9 925.5 117C928.6 119.1 934.4 123.9 935.2 124.5" fill="none" stroke="#686868" stroke-width="2.9" stroke-linecap="round" stroke-linejoin="round"/><path d="M877.5 106.8C878.8 106.2 891.6 99.9 893.2 99.3C894.9 98.7 895.1 98.1 897.8 99.6C900.4 101.1 922.4 114.9 925.5 117C928.6 119.1 934.4 123.9 935.2 124.5" fill="none" stroke="#a0a0a0" stroke-width="1.8" stroke-linecap="round" stroke-linejoin="round"/><path d="M877.5 106.8C878.8 106.2 891.6 99.9 893.2 99.3C894.9 98.7 895.1 98.1 897.8 99.6C900.4 101.1 922.4 114.9 925.5 117C928.6 119.1 934.4 123.9 935.2 124.5" fill="none" stroke="#cfcfcf" stroke-width="0.7" stroke-linecap="round" stroke-linejoin="round"/>
<path d="M847.5 118.2C848 117.6 854.9 109.9 855.8 109.2C856.6 108.5 859.6 107.3 860.2 107.2C860.9 107.2 864.4 108 865.5 108.3C866.6 108.6 873.4 111.2 877.5 112.5C881.6 113.8 923 127.1 927 128.2C931 129.4 936.5 129.4 937.5 129.3C938.5 129.2 941.5 127.4 941.7 127.5C941.9 127.6 943 129.9 940.5 130.8C938 131.8 907.1 140.9 904.5 141.8C901.9 142.6 901.8 143.3 901.8 143.7C901.8 144.1 904 147.4 904.5 147.8C905 148.1 905.3 148.2 909 149.4C912.7 150.6 956.6 164 960 165" fill="none" stroke="#686868" stroke-width="5.2" stroke-linecap="round" stroke-linejoin="round"/><path d="M847.5 118.2C848 117.6 854.9 109.9 855.8 109.2C856.6 108.5 859.6 107.3 860.2 107.2C860.9 107.2 864.4 108 865.5 108.3C866.6 108.6 873.4 111.2 877.5 112.5C881.6 113.8 923 127.1 927 128.2C931 129.4 936.5 129.4 937.5 129.3C938.5 129.2 941.5 127.4 941.7 127.5C941.9 127.6 943 129.9 940.5 130.8C938 131.8 907.1 140.9 904.5 141.8C901.9 142.6 901.8 143.3 901.8 143.7C901.8 144.1 904 147.4 904.5 147.8C905 148.1 905.3 148.2 909 149.4C912.7 150.6 956.6 164 960 165" fill="none" stroke="#a0a0a0" stroke-width="3.2" stroke-linecap="round" stroke-linejoin="round"/><path d="M847.5 118.2C848 117.6 854.9 109.9 855.8 109.2C856.6 108.5 859.6 107.3 860.2 107.2C860.9 107.2 864.4 108 865.5 108.3C866.6 108.6 873.4 111.2 877.5 112.5C881.6 113.8 923 127.1 927 128.2C931 129.4 936.5 129.4 937.5 129.3C938.5 129.2 941.5 127.4 941.7 127.5C941.9 127.6 943 129.9 940.5 130.8C938 131.8 907.1 140.9 904.5 141.8C901.9 142.6 901.8 143.3 901.8 143.7C901.8 144.1 904 147.4 904.5 147.8C905 148.1 905.3 148.2 909 149.4C912.7 150.6 956.6 164 960 165" fill="none" stroke="#cfcfcf" stroke-width="1.3" stroke-linecap="round" stroke-linejoin="round"/>
<ellipse cx="847.2" cy="118.5" rx="2.6" ry="1.5" fill="#d8d8d8" stroke="#777" stroke-width="0.7" transform="rotate(-45 847.2 118.5)" />
<path d="M865.5 102.8C865.9 101.7 868.8 99.8 870 99.8C871.2 99.7 873.5 100.8 874.5 102C875.5 103.2 877.7 107.7 877.5 108.8C877.3 109.8 874.4 110.3 873 110.2C871.6 110.2 868 109 867 108C866 107 865.1 103.8 865.5 102.8Z" fill="#a6a6a6" stroke="#6a6a6a" stroke-width=".8"/>
<ellipse cx="870.0" cy="104.2" rx="3.0" ry="3.0" fill="#c4c4c4" stroke="#6a6a6a" stroke-width="0.8" transform="rotate(0 870.0 104.2)" />
<path d="M922.5 114.8C922.7 114 924.8 112.6 926.2 113.2C927.7 113.9 934 118.5 935.2 120C936.5 121.5 937.4 125.3 936.8 126C936.1 126.7 931.4 126.7 930 126C928.6 125.3 925.6 121.3 924.8 120C923.9 118.7 922.3 115.5 922.5 114.8Z" fill="#a6a6a6" stroke="#6a6a6a" stroke-width=".8"/>
<path d="M957.8 165.8C958.3 164.4 962.9 162.9 964.5 162.8C966.1 162.6 970.5 163.6 971.2 164.2C972 164.9 971.9 167.4 971.2 168C970.6 168.6 966.8 168.6 966 169.5C965.2 170.4 965.2 175 964.5 175.5C963.8 176 960.8 175.1 960 174C959.2 172.9 957.2 167.1 957.8 165.8Z" fill="#9a9a9a" stroke="#666" stroke-width=".8"/>
<ellipse cx="960.3" cy="169.5" rx="3.2" ry="4.2" fill="#d6d6d6" stroke="#6a6a6a" stroke-width="0.8" transform="rotate(20 960.3 169.5)" />
<path d="M823.2 137.7 l4 -4 l5 3 l-1 5 l-5 3 l-4 -3z" fill="#e4e4e4" stroke="#a8a8a8" stroke-width="1"/>
<path d="M796.8 171.8 L808.8 160.5" fill="none" stroke="#8a8a8a" stroke-width="5.0" stroke-linecap="butt" stroke-linejoin="round"/><path d="M796.8 171.8 L808.8 160.5" fill="none" stroke="#b8b8b8" stroke-width="3.1" stroke-linecap="butt" stroke-linejoin="round"/><path d="M796.8 171.8 L808.8 160.5" fill="none" stroke="#dcdcdc" stroke-width="1.2" stroke-linecap="butt" stroke-linejoin="round"/>
<path d="M788.2 164.2C789.5 163.8 791.8 165.9 792.8 168C793.8 170.1 795.2 176.4 795.8 180C796.3 183.6 797 192.3 796.8 195C796.6 197.7 795.1 199.9 794.2 200.2C793.4 200.6 791.9 199.2 790.5 197.2C789.1 195.3 785.1 188.5 783.8 186C782.4 183.5 780 180.5 780 178.5C780 176.5 782.6 172.9 783.8 171C784.9 169.1 787 164.7 788.2 164.2Z" fill="#a2a2a2" stroke="#7a7a7a" stroke-width=".8"/>
<ellipse cx="786.8" cy="180.0" rx="5.5" ry="7.5" fill="#bcbcbc" stroke="#7a7a7a" stroke-width="0.8" transform="rotate(-15 786.8 180.0)" />
<ellipse cx="785.8" cy="181.5" rx="3.0" ry="4.0" fill="#e0e0e0" stroke="#888" stroke-width="0.6" transform="rotate(-15 785.8 181.5)" />
<ellipse cx="793.8" cy="197.2" rx="1.5" ry="2.0" fill="#d0d0d0" transform="rotate(0 793.8 197.2)" />
<path d="M772.5 189 L786 182.2" fill="none" stroke="#555" stroke-width="1.2"/>
<ellipse cx="760.5" cy="195.8" rx="5.3" ry="8.5" fill="none" stroke="#a4a4a4" stroke-width="1.6" transform="rotate(-22 760.5 195.8)" />
<path d="M816.8 184.8 L828 179.6" fill="none" stroke="#555" stroke-width="3.6" stroke-linecap="butt" stroke-linejoin="round"/><path d="M816.8 184.8 L828 179.6" fill="none" stroke="#777" stroke-width="2.2" stroke-linecap="butt" stroke-linejoin="round"/><path d="M816.8 184.8 L828 179.6" fill="none" stroke="#9a9a9a" stroke-width="0.9" stroke-linecap="butt" stroke-linejoin="round"/>
<ellipse cx="828.8" cy="178.5" rx="3.0" ry="5.5" fill="#6e6e6e" stroke="#4a4a4a" stroke-width="0.8" transform="rotate(-25 828.8 178.5)" />
<ellipse cx="830.8" cy="177.5" rx="2.2" ry="4.5" fill="#8a8a8a" transform="rotate(-25 830.8 177.5)" />
<path d="M919.5 187.5C919.9 186.9 921.8 189.4 922.5 189C923.2 188.6 926.3 183.3 927 183C927.7 182.7 929.2 184.9 929.2 186C929.3 187.1 928.4 192.3 927.8 193.5C927.1 194.7 923.2 197 922.5 198C921.8 199 921.8 202.9 921 203.2C920.2 203.6 915.7 201.6 915 201C914.3 200.4 913.9 197.8 914.2 197.2C914.6 196.7 918.2 196 918.8 195C919.3 194 919.1 188.1 919.5 187.5Z" fill="#a8a8a8" stroke="#6e6e6e" stroke-width=".8"/>
<path d="M922.5 189.8C922.8 188.8 926.2 185.8 926.7 186C927.2 186.2 927.3 191.1 927 192C926.7 192.9 923.7 195.2 923.2 195C922.8 194.8 922.2 190.7 922.5 189.8Z" fill="#e4e4e4"/>
<defs><linearGradient id="cap2" x1="0" y1="0" x2="1" y2="1"><stop offset="0" stop-color="#8c8c8c"/><stop offset="1" stop-color="#6c6c6c"/></linearGradient></defs>
<path d="M831 225.8C826.8 226.7 831.8 230.4 834 231.8C836.2 233.1 843.8 235.8 847.5 235.8C851.2 235.8 859.4 233.2 861.8 231.8C864.1 230.3 869.6 225.8 865.5 225C861.4 224.2 835.2 224.8 831 225.8Z" fill="#b4b4b4" stroke="#8a8a8a" stroke-width=".6"/>
<ellipse cx="848.2" cy="218.7" rx="21.8" ry="12.5" fill="url(#cap2)" stroke="#6a6a6a" stroke-width="0.8" transform="rotate(3 848.2 218.7)" />
<path d="M831.8 208.5 L861 227.2" fill="none" stroke="#686868" stroke-width="4.6" stroke-linecap="round"/>
<path d="M831.8 207.9 L861 226.7" fill="none" stroke="#b2b2b2" stroke-width="2.8" stroke-linecap="round"/>
<path d="M836.2 205.8 L866.2 223.5" fill="none" stroke="#686868" stroke-width="4.6" stroke-linecap="round"/>
<path d="M836.2 205.2 L866.2 222.9" fill="none" stroke="#b2b2b2" stroke-width="2.8" stroke-linecap="round"/>
<ellipse cx="942.7" cy="282.7" rx="4.8" ry="3.2" fill="#9a9a9a" stroke="#666" stroke-width="0.8" transform="rotate(0 942.7 282.7)" />
<ellipse cx="942.7" cy="282.2" rx="2.3" ry="1.4" fill="#555" transform="rotate(0 942.7 282.2)" />
<path d="M798.1 494.7C798.8 493.4 803.6 491.9 805.3 492C807.1 492.1 812.5 494.2 813.3 495.5C814.2 496.7 813.1 500.9 812.5 502.7C812 504.4 809.9 509.7 808.8 510.7C807.7 511.6 804.6 511.6 803.5 510.7C802.3 509.7 799.8 504.5 799.2 502.7C798.6 500.8 797.4 495.9 798.1 494.7Z" fill="#9c9c9c" stroke="#666" stroke-width=".8"/>
<ellipse cx="805.9" cy="493.9" rx="7.0" ry="3.0" fill="#7c7c7c" transform="rotate(0 805.9 493.9)" />
<ellipse cx="805.9" cy="493.9" rx="3.0" ry="1.5" fill="#f4f4f4" transform="rotate(0 805.9 493.9)" />
<ellipse cx="805.3" cy="528.0" rx="7.0" ry="4.2" fill="#b8b8b8" stroke="#666" stroke-width="1.0" transform="rotate(0 805.3 528.0)" />
<ellipse cx="805.3" cy="527.4" rx="3.8" ry="2.0" fill="#fff" stroke="#777" stroke-width="0.7" transform="rotate(0 805.3 527.4)" />
<path d="M727.5 353.8C722.9 356.2 705.4 365 700 368.8C694.6 372.5 695 373.5 695 376.2C695 379 697.7 382.4 700 385.5C702.3 388.6 707.4 391.8 708.8 395C710.1 398.2 715.7 395.2 708 405C700.3 414.8 671.8 445.2 662.5 453.8C653.2 462.3 658.8 456.7 652.5 456.5C646.2 456.3 631.2 453 625 452.5C618.8 452 619 452.3 615 453.8C611 455.2 603.5 460 601.2 461.2" fill="none" stroke="#747474" stroke-width="4.1" stroke-linecap="round" stroke-linejoin="round"/><path d="M727.5 353.8C722.9 356.2 705.4 365 700 368.8C694.6 372.5 695 373.5 695 376.2C695 379 697.7 382.4 700 385.5C702.3 388.6 707.4 391.8 708.8 395C710.1 398.2 715.7 395.2 708 405C700.3 414.8 671.8 445.2 662.5 453.8C653.2 462.3 658.8 456.7 652.5 456.5C646.2 456.3 631.2 453 625 452.5C618.8 452 619 452.3 615 453.8C611 455.2 603.5 460 601.2 461.2" fill="none" stroke="#a8a8a8" stroke-width="2.5" stroke-linecap="round" stroke-linejoin="round"/><path d="M727.5 353.8C722.9 356.2 705.4 365 700 368.8C694.6 372.5 695 373.5 695 376.2C695 379 697.7 382.4 700 385.5C702.3 388.6 707.4 391.8 708.8 395C710.1 398.2 715.7 395.2 708 405C700.3 414.8 671.8 445.2 662.5 453.8C653.2 462.3 658.8 456.7 652.5 456.5C646.2 456.3 631.2 453 625 452.5C618.8 452 619 452.3 615 453.8C611 455.2 603.5 460 601.2 461.2" fill="none" stroke="#d8d8d8" stroke-width="1.0" stroke-linecap="round" stroke-linejoin="round"/>
<path d="M728.2 348.8C729 347.8 731.9 346.3 733 346.5C734.1 346.7 736.2 349.3 736.5 350.5C736.8 351.7 736.3 354.6 735.5 355.5C734.7 356.4 731.6 357.3 730.5 357C729.4 356.7 727.8 354.6 727.5 353.5C727.2 352.4 727.5 349.7 728.2 348.8Z" fill="#9a9a9a" stroke="#666" stroke-width=".8"/>
<path d="M593 461C593.6 460.1 595.9 458.9 597 459C598.1 459.1 600.8 460.8 601.2 462C601.7 463.2 601.1 466.9 600.5 468C599.9 469.1 597.5 470.3 596.5 470C595.5 469.7 593.2 467.2 592.8 466C592.3 464.8 592.4 461.9 593 461Z" fill="#9a9a9a" stroke="#666" stroke-width=".8"/>
</g>
<!-- 60_sg.svg -->
<g id="sg">
<path d="M1026.7 754.7 L1043.3 762.7" fill="none" stroke="#2aa92a" stroke-width="27.0" stroke-linecap="butt" stroke-linejoin="round"/><path d="M1026.7 754.7 L1043.3 762.7" fill="none" stroke="#3fbe3f" stroke-width="23.2" stroke-linecap="butt" stroke-linejoin="round"/><path d="M1026.7 754.7 L1043.3 762.7" fill="none" stroke="#54cb54" stroke-width="13.5" stroke-linecap="butt" stroke-linejoin="round" transform="translate(-0.5 1.5)"/><path d="M1026.7 754.7 L1043.3 762.7" fill="none" stroke="#92e592" stroke-width="4.3" stroke-linecap="round" stroke-linejoin="round" opacity="0.50" transform="translate(-0.8 2.2)"/>
<path d="M1043.3 762.7 L1062 771.7" fill="none" stroke="#2aa92a" stroke-width="20.5" stroke-linecap="butt" stroke-linejoin="round"/><path d="M1043.3 762.7 L1062 771.7" fill="none" stroke="#3fbe3f" stroke-width="17.6" stroke-linecap="butt" stroke-linejoin="round"/><path d="M1043.3 762.7 L1062 771.7" fill="none" stroke="#54cb54" stroke-width="10.2" stroke-linecap="butt" stroke-linejoin="round" transform="translate(-0.5 1.2)"/><path d="M1043.3 762.7 L1062 771.7" fill="none" stroke="#92e592" stroke-width="3.3" stroke-linecap="round" stroke-linejoin="round" opacity="0.50" transform="translate(-0.8 1.8)"/>
<ellipse cx="1024.7" cy="753.6" rx="5.2" ry="14.0" fill="#43c043" stroke="#2aa82a" stroke-width="1.0" transform="rotate(26 1024.7 753.6)" />
<ellipse cx="1025.7" cy="754.1" rx="3.4" ry="11.2" fill="#58cf58" transform="rotate(26 1025.7 754.1)" />
<ellipse cx="1062.7" cy="772.0" rx="3.2" ry="10.2" fill="#35b435" transform="rotate(26 1062.7 772.0)" />
<ellipse cx="1032.7" cy="757.3" rx="3.6" ry="13.6" fill="none" stroke="#8fe38f" stroke-width="0.9" transform="rotate(26 1032.7 757.3)" />
<ellipse cx="1041.3" cy="761.6" rx="3.6" ry="13.6" fill="none" stroke="#8fe38f" stroke-width="0.9" transform="rotate(26 1041.3 761.6)" />
<path d="M1054 766 L1067.3 773.3" stroke="#2aa82a" stroke-width="1.3" fill="none"/>
<path d="M1073.3 776.7 L1077.3 778.4" stroke="#2aa82a" stroke-width="1.3" fill="none"/>
<path d="M1094.7 786 L1108 792.7" stroke="#2aa82a" stroke-width="1.3" fill="none"/>
<ellipse cx="1086.2" cy="782.3" rx="6.5" ry="13.5" fill="none" stroke="#3ab83a" stroke-width="2.6" transform="rotate(27 1086.2 782.3)" />
<ellipse cx="1083.5" cy="784.1" rx="6.5" ry="13.5" fill="none" stroke="#2ca82c" stroke-width="2.2" transform="rotate(27 1083.5 784.1)" />
<ellipse cx="1084.9" cy="783.3" rx="6.5" ry="13.5" fill="none" stroke="#7ada7a" stroke-width="0.9" transform="rotate(27 1084.9 783.3)" />
<path d="M1089.3 768 L1096.7 770.7 L1095.3 777.3 L1088.7 774.7Z" fill="#37b537" stroke="#249c24" stroke-width=".8"/>
<ellipse cx="1046.9" cy="686.0" rx="6.0" ry="8.8" fill="none" stroke="#8c8c8c" stroke-width="2.0" transform="rotate(10 1046.9 686.0)" />
<ellipse cx="1048.4" cy="686.5" rx="6.0" ry="8.8" fill="none" stroke="#b0b0b0" stroke-width="1.2" transform="rotate(10 1048.4 686.5)" />
<path d="M1052 677.3 L1056.7 677.1 L1056.3 683.3" fill="none" stroke="#8c8c8c" stroke-width="1.6"/>
<path d="M1046.7 695.3 L1048.7 698 L1052 695.3" fill="none" stroke="#999" stroke-width="1.4"/>
<path d="M1030.7 686 L1045.3 684.8" stroke="#444" stroke-width="1.2" fill="none"/>
<g transform="translate(980.0 732.0) rotate(0) scale(1.00)" fill="none" stroke="#bcbcbc" stroke-width="1.3"><path d="M-5 15 q2 -4 0 -8 q-3 -8 -2 -15 q1 -7 7 -8 q7 1 7.5 9 q0 7 1.5 11 q1 3 -1.5 6"/><path d="M-6 2 q-2 5 1 9 q2 3 0 7"/></g>
<ellipse cx="1006.7" cy="743.7" rx="8.6" ry="14.5" fill="none" stroke="#8a8a8a" stroke-width="2.0" transform="rotate(20 1006.7 743.7)" /><ellipse cx="1006.3" cy="743.3" rx="8.3" ry="14.2" fill="none" stroke="#b9b9b9" stroke-width="0.7" transform="rotate(20 1006.3 743.3)" />
<path d="M997.3 745.3 L1005.3 746.9" stroke="#444" stroke-width="1.2" fill="none"/>
<g transform="translate(851.2 630.5) rotate(0) scale(1.05)" fill="none" stroke="#c2c2c2" stroke-width="1.3"><path d="M-5 15 q2 -4 0 -8 q-3 -8 -2 -15 q1 -7 7 -8 q7 1 7.5 9 q0 7 1.5 11 q1 3 -1.5 6"/><path d="M-6 2 q-2 5 1 9 q2 3 0 7"/></g>
<ellipse cx="878.2" cy="629.5" rx="9.0" ry="15.0" fill="none" stroke="#8a8a8a" stroke-width="2.0" transform="rotate(5 878.2 629.5)" /><ellipse cx="877.9" cy="629.1" rx="8.7" ry="14.7" fill="none" stroke="#b9b9b9" stroke-width="0.7" transform="rotate(5 877.9 629.1)" />
<path d="M873.8 631.8 L888.8 632.5" stroke="#444" stroke-width="1.2" fill="none"/>
<ellipse cx="820.0" cy="812.0" rx="10.5" ry="15.5" fill="none" stroke="#8c8c8c" stroke-width="2.2" transform="rotate(-25 820.0 812.0)" /><ellipse cx="819.6" cy="811.6" rx="10.2" ry="15.2" fill="none" stroke="#b9b9b9" stroke-width="0.7" transform="rotate(-25 819.6 811.6)" />
<g transform="translate(783.8 830.0) rotate(8) scale(1.05)" fill="none" stroke="#c2c2c2" stroke-width="1.3"><path d="M-5 15 q2 -4 0 -8 q-3 -8 -2 -15 q1 -7 7 -8 q7 1 7.5 9 q0 7 1.5 11 q1 3 -1.5 6"/><path d="M-6 2 q-2 5 1 9 q2 3 0 7"/></g>
<g transform="translate(867.0 1130.5) rotate(-8) scale(1.15)" fill="none" stroke="#929292" stroke-width="1.9"><path d="M-5 15 q2 -4 0 -8 q-3 -8 -2 -15 q1 -7 7 -8 q7 1 7.5 9 q0 7 1.5 11 q1 3 -1.5 6"/><path d="M-6 2 q-2 5 1 9 q2 3 0 7"/></g>
<ellipse cx="910.0" cy="1174.5" rx="10.5" ry="15.0" fill="none" stroke="#8c8c8c" stroke-width="2.2" transform="rotate(-22 910.0 1174.5)" /><ellipse cx="909.6" cy="1174.1" rx="10.2" ry="14.7" fill="none" stroke="#b9b9b9" stroke-width="0.7" transform="rotate(-22 909.6 1174.1)" />
<path d="M834.5 980.5 L846.2 993" fill="none" stroke="#2aa92a" stroke-width="11.5" stroke-linecap="butt" stroke-linejoin="round"/><path d="M834.5 980.5 L846.2 993" fill="none" stroke="#3fbe3f" stroke-width="9.9" stroke-linecap="butt" stroke-linejoin="round"/><path d="M834.5 980.5 L846.2 993" fill="none" stroke="#54cb54" stroke-width="5.8" stroke-linecap="butt" stroke-linejoin="round" transform="translate(0.0 0.0)"/>
<path d="M845 992 L853.8 999.5" fill="none" stroke="#2aa92a" stroke-width="15.0" stroke-linecap="round" stroke-linejoin="round"/><path d="M845 992 L853.8 999.5" fill="none" stroke="#3fbe3f" stroke-width="12.9" stroke-linecap="round" stroke-linejoin="round"/><path d="M845 992 L853.8 999.5" fill="none" stroke="#54cb54" stroke-width="7.5" stroke-linecap="round" stroke-linejoin="round" transform="translate(0.0 0.0)"/>
<path d="M854.5 1000.5 L860.5 1007" fill="none" stroke="#2aa92a" stroke-width="7.0" stroke-linecap="butt" stroke-linejoin="round"/><path d="M854.5 1000.5 L860.5 1007" fill="none" stroke="#3fbe3f" stroke-width="6.0" stroke-linecap="butt" stroke-linejoin="round"/><path d="M854.5 1000.5 L860.5 1007" fill="none" stroke="#54cb54" stroke-width="3.5" stroke-linecap="butt" stroke-linejoin="round" transform="translate(0.0 0.0)"/>
<path d="M854 983.8 L854 975" stroke="#2aa82a" stroke-width="1.3" fill="none"/>
<ellipse cx="887.0" cy="1042.5" rx="6.5" ry="8.5" fill="none" stroke="#35b535" stroke-width="2.4" transform="rotate(25 887.0 1042.5)" />
<ellipse cx="886.4" cy="1042.1" rx="6.5" ry="8.5" fill="none" stroke="#7ada7a" stroke-width="0.8" transform="rotate(25 886.4 1042.1)" />
<path d="M891.8 1033.8 L891.8 1027.5" stroke="#2aa82a" stroke-width="1.3" fill="none"/>
<path d="M888.8 1045 L895 1052.5" stroke="#2aa82a" stroke-width="1.3" fill="none"/>
<g transform="translate(921.2 1078.0) rotate(5) scale(1.05)" fill="none" stroke="#3dbb3d" stroke-width="1.4"><path d="M-5 15 q2 -4 0 -8 q-3 -8 -2 -15 q1 -7 7 -8 q7 1 7.5 9 q0 7 1.5 11 q1 3 -1.5 6"/><path d="M-6 2 q-2 5 1 9 q2 3 0 7"/></g>
<defs><linearGradient id="p28a" x1="0" y1="0" x2="1" y2="1"><stop offset="0" stop-color="#3dbd3d"/><stop offset="0.45" stop-color="#7edc7e"/><stop offset="1" stop-color="#34b434"/></linearGradient></defs>
<path d="M966.7 1136C966.3 1133.7 972 1134.3 973.3 1133.3C974.7 1132.4 977.3 1126.1 980 1126.7C982.7 1127.3 999.1 1136.9 1000 1139.3C1000.9 1141.7 991.6 1149 989.3 1150.7C987.1 1152.3 979.6 1157.5 977.3 1156C975.1 1154.5 967.1 1138.3 966.7 1136Z" fill="#259f25"/>
<path d="M966.7 1136C969 1138.2 977.3 1152.3 977.3 1156C977.3 1159.7 968.7 1166 966.7 1168C964.6 1170 961.9 1172.7 960 1173.3C958.1 1174 952.8 1174.9 950.7 1173.3C948.5 1171.8 942.4 1162.8 941.3 1160C940.2 1157.2 940.6 1151.4 941.3 1149.3C942.1 1147.3 946.1 1144.1 948 1142.7C949.9 1141.3 955.2 1138.1 957.3 1137.3C959.5 1136.6 964.3 1133.8 966.7 1136Z" fill="#2eac2e"/>
<path d="M992.7 1107.3C994 1107.1 1012.3 1118.3 1012.7 1119.6C1013 1120.9 1002 1139.5 1000.7 1139.7C999.4 1140 980.3 1128 980 1126.7C979.7 1125.4 991.4 1107.6 992.7 1107.3Z" fill="url(#p28a)"/>
<ellipse cx="1002.7" cy="1113.7" rx="11.6" ry="3.2" fill="#35b435" stroke="#2aa82a" stroke-width="0.8" transform="rotate(31 1002.7 1113.7)" />
<ellipse cx="999.7" cy="1118.7" rx="11.8" ry="2.6" fill="none" stroke="#b4efb4" stroke-width="1.0" transform="rotate(31 999.7 1118.7)" />
<ellipse cx="990.9" cy="1132.0" rx="12.6" ry="2.6" fill="none" stroke="#b4efb4" stroke-width="1.0" transform="rotate(31 990.9 1132.0)" />
<ellipse cx="951.7" cy="1158.9" rx="9.3" ry="15.3" fill="#38b638" stroke="#62d362" stroke-width="1.3" transform="rotate(-33 951.7 1158.9)" />
<ellipse cx="952.3" cy="1159.3" rx="6.3" ry="12.0" fill="#4fc84f" stroke="#249c24" stroke-width="1.0" transform="rotate(-33 952.3 1159.3)" />
<ellipse cx="953.1" cy="1159.9" rx="4.3" ry="9.0" fill="#72d772" transform="rotate(-33 953.1 1159.9)" />
<path d="M946.7 1141.3C946.9 1140.6 947.3 1134.5 948.7 1134C950 1133.5 958.3 1134.3 960 1136C961.7 1137.7 965.3 1148 966 1150.7C966.7 1153.3 966.6 1161.5 966.7 1162.7" stroke="#7ada7a" stroke-width="1" fill="none"/>
<path d="M944.7 1165.3 L950 1162" stroke="#2aa82a" stroke-width="1.3" fill="none"/>
<path d="M1006.7 1111.3 L1010.7 1107.3" stroke="#2aa82a" stroke-width="1.3" fill="none"/>
<path d="M1042.7 1072 L1046 1068.7" stroke="#2aa82a" stroke-width="1.3" fill="none"/>
<path d="M1022 1070.4C1020.5 1068.1 1025 1063.6 1027.3 1064.8C1029.7 1066 1048.5 1082.3 1050 1084.7C1051.5 1087 1047.7 1093.9 1045.3 1092.7C1043 1091.5 1023.5 1072.7 1022 1070.4Z" fill="#52c852" stroke="#2fae2f" stroke-width="1"/>
<path d="M1030.7 1076.7C1029.8 1075.6 1032 1074.2 1033.3 1074.9C1034.7 1075.7 1045.8 1084.9 1046.7 1086C1047.6 1087.1 1045.3 1088.8 1044 1088C1042.7 1087.2 1031.6 1077.8 1030.7 1076.7Z" fill="#8fe38f"/>
<path d="M1040.7 1080.7C1040.4 1080.2 1041.5 1079.4 1042 1079.7C1042.5 1080.1 1046.2 1084.2 1046.4 1084.7C1046.6 1085.1 1045.1 1085.7 1044.7 1085.3C1044.2 1085 1040.9 1081.1 1040.7 1080.7Z" fill="#e8fbe8"/>
<path d="M1149.7 1001.8C1150.7 999 1156 994.9 1158.5 994.4C1161 993.9 1166.3 995.8 1168.4 998C1170.5 1000.2 1173.7 1008 1173.9 1010.9C1174.1 1013.7 1172.1 1017.9 1170 1019.4C1168 1020.9 1161.1 1022.7 1158.5 1022.2C1155.9 1021.6 1152 1017.7 1150.8 1015C1149.6 1012.3 1148.7 1004.5 1149.7 1001.8Z" fill="#2fae2f"/>
<ellipse cx="1155.2" cy="1015.4" rx="7.8" ry="9.2" fill="#4fca4f" stroke="#2aa82a" stroke-width="1.0" transform="rotate(-25 1155.2 1015.4)" />
<ellipse cx="1154.7" cy="1016.4" rx="5.0" ry="6.3" fill="#36b336" transform="rotate(-25 1154.7 1016.4)" />
<path d="M1147 1005.4C1147.4 1003.5 1151.9 997.9 1153 997.1C1154.1 996.4 1155.6 998 1155.2 999.9C1154.8 1001.7 1150.8 1010.1 1149.7 1010.9C1148.6 1011.6 1146.5 1007.2 1147 1005.4Z" fill="#9a9a9a"/>
<path d="M1160.7 995.2 L1168.1 1019.1" stroke="#249c24" stroke-width="1" fill="none"/>
<path d="M1165.4 995.8 L1172.8 1016.4" stroke="#249c24" stroke-width="1" fill="none"/>
<path d="M1177.2 1010.9 L1181.9 1010.9" stroke="#2aa82a" stroke-width="1.3" fill="none"/>
</g>
<!-- 65_bottle.svg -->
<g id="bottle">
<defs><linearGradient id="btc" x1="0" y1="0" x2="1" y2="0"><stop offset="0" stop-color="#8a8a8a"/><stop offset="0.4" stop-color="#c2c2c2"/><stop offset="1" stop-color="#8c8c8c"/></linearGradient>
<linearGradient id="btf" x1="0" y1="0" x2="1" y2="0"><stop offset="0" stop-color="#a6a6a6"/><stop offset="1" stop-color="#9e9e9e"/></linearGradient></defs>
<path d="M488.1 966.9C488.5 966.5 496.7 965 497.5 965C498.3 965 507.1 966.4 507.5 966.9C507.9 967.4 507.5 976.4 508.1 976.9C508.7 977.4 521.7 979.1 522.5 979.4C523.3 979.6 526.8 981.5 527.5 982.5C528.2 983.5 540.7 999.2 541.2 1003.1C541.8 1007.1 541.4 1078 541.2 1081.2C541.1 1084.5 539.1 1085.2 537.5 1085.6C535.9 1086 501.7 1091.1 500 1091.2C498.3 1091.4 495.7 1090.5 495 1090C494.3 1089.5 483.6 1082.3 483.1 1078.8C482.6 1075.2 482.1 1003.5 482.2 1000C482.4 996.5 487.3 992.9 487.5 991.9C487.7 990.9 487.5 976 487.5 975C487.5 974 487.7 967.3 488.1 966.9Z" fill="url(#btf)"/>
<path d="M482.2 1000 L487.5 991.9 L493.8 998.1 L494 1075 L495 1090 L483.1 1078.8Z" fill="#979797"/>
<path d="M487.5 975 L508.1 976.9 L500 986.2 L493.8 998.1 L487.5 991.9Z" fill="url(#btc)"/>
<path d="M488.1 966.9C489.1 965.9 495.6 965 497.5 965C499.4 965 506.5 965.9 507.5 966.9C508.5 967.8 508.8 973.4 507.8 974.4C506.8 975.3 499.5 976.2 497.5 976.2C495.5 976.2 489.1 975.3 488.1 974.4C487.2 973.4 487.2 967.8 488.1 966.9Z" fill="url(#btc)"/>
<ellipse cx="497.8" cy="967.2" rx="9.8" ry="2.6" fill="#b0b0b0" transform="rotate(0 497.8 967.2)" />
<path d="M500 986.2 L493.8 998.1 L494 1075" fill="none" stroke="#c4c4c4" stroke-width="1.2"/>
<path d="M506 998.5 L516.2 980.6 L525.6 981.9 L536.9 1000.2Z" fill="#959595" stroke="#b0b0b0" stroke-width=".8"/>
<path d="M503.1 1073.8 L534.4 1070.2 L534.4 1077.5 L503.1 1081.9Z" fill="#9c9c9c" stroke="#b4b4b4" stroke-width=".8"/>
<path d="M495 1075C495.2 1074.3 501 1070.2 502.5 1070C504 1069.8 540 1067.1 541.2 1067.5C542.5 1067.9 541.4 1080.6 541.2 1081.2C541.1 1081.9 538.9 1085.3 537.5 1085.6C536.1 1086 501.4 1091.1 500 1091.2C498.6 1091.4 495.2 1090.5 495 1090C494.8 1089.5 494.8 1075.7 495 1075Z" fill="#9b9b9b"/>
<path d="M503.1 1073.8 L534.4 1070.2 L534.4 1077.5 L503.1 1081.9Z" fill="#a0a0a0" stroke="#b4b4b4" stroke-width=".8"/>
<path d="M494 1026.2 L501.9 1020" fill="none" stroke="#b8b8b8" stroke-width="1"/>
<path d="M482.5 1025.6 L493.8 1028.8" fill="none" stroke="#8c8c8c" stroke-width="1"/>
<path d="M494 1042.5 L501.9 1036.2" fill="none" stroke="#b8b8b8" stroke-width="1"/>
<path d="M482.5 1041.9 L493.8 1045" fill="none" stroke="#8c8c8c" stroke-width="1"/>
<path d="M494 1058.8 L501.9 1052.5" fill="none" stroke="#b8b8b8" stroke-width="1"/>
<path d="M482.5 1058.1 L493.8 1061.2" fill="none" stroke="#8c8c8c" stroke-width="1"/>
<path d="M494 1075 L501.9 1068.8" fill="none" stroke="#b8b8b8" stroke-width="1"/>
<path d="M482.5 1074.4 L493.8 1077.5" fill="none" stroke="#8c8c8c" stroke-width="1"/>
</g>
<!-- 80_lines.svg -->
<g id="leaders" class="l">
<path d="M826.5 94.7V128"/><path d="M786.6 126.6V160.3"/><path d="M759.4 150.4V183.4"/>
<path d="M944 124.7H968.4"/><path d="M834 174.8H845.6"/><path d="M888.4 189H913"/>
<path d="M797 218.8H826"/><path d="M942.8 262.5V274.7"/>
<path d="M753.3 418.7H788"/><path d="M760 500.8H794.7"/><path d="M760 527.5H794"/>
<path d="M1038.8 220.5V242"/><path d="M1053 268H1067.5"/><path d="M1036.3 304.3H1050"/>
<path d="M1020 343.3H1035"/><path d="M1119.5 282V315"/><path d="M1180.5 295H1196.3"/>
<path d="M980.5 426.3V438H1095V422"/><path d="M1000 417.5V438"/><path d="M1036.8 438V455.5"/>
<path d="M1128.8 534H1170.7"/>
<path d="M851.5 592V613.8"/><path d="M875.8 645V682"/><path d="M923 676.8H950"/>
<path d="M1048 652.5V673.8"/><path d="M1041.8 726V745"/><path d="M971.8 751V770"/>
<path d="M1002 760V777.5"/><path d="M812.5 775V795"/><path d="M782.5 790V811"/>
<path d="M1092.3 743.3V763.3"/><path d="M985 913.3H1002.3"/>
<path d="M1020 806.7H1002.3V1020.7H1020"/><path d="M1002.3 958.3H1080"/>
<path d="M1177.3 1010.7H1192.3"/>
<path d="M854.3 943V985"/><path d="M892 998.8V1032.5"/><path d="M922 1042V1062.5"/>
<path d="M1052 1085H1088.8"/><path d="M996.3 1143H1033.8"/><path d="M820.5 1133.3H853.8"/>
<path d="M862.5 1174.3H896.3"/>
<path d="M664.5 408.8V442.5"/>
<path d="M453.7 1030H479"/>
</g>
<g id="dashdot" class="d">
<!-- pipe 7 region -->
<path d="M846 121L832.5 133.5"/><path d="M822.5 143.5L813 153.5"/>
<path d="M772.5 189.4L784.7 182.8"/><path d="M801.6 192.8L814.7 186"/>
<path d="M925.3 161V189" style="stroke-dasharray:4 6 18 4"/>
<path d="M960 171L884 293.5"/>
<path d="M847 236V289" style="stroke-dasharray:15 5 5 6 30 4"/>
<!-- tank -->

<path d="M942.7 285V297.3L897.3 292"/><path d="M897.3 301V316" style="stroke-dasharray:none"/>
<path d="M805.3 313.3L737 347"/>
<path d="M827 435L976 374.3" style="stroke-dasharray:20 7 4 7;stroke-dashoffset:6.5"/><path d="M976 374.3L1043 391.5" style="stroke-dasharray:16.7 6 3.5 7.5"/><path d="M1043 391.5L1147.5 366" style="stroke-dasharray:18 6 4 6.7"/>
<path d="M976.5 404.7L954.5 402.3" style="stroke-dasharray:15.5 5 2 20"/><path d="M954.5 402.5L877.5 607.5" style="stroke-dasharray:21.4 8 5 8.4;stroke-dashoffset:1.3"/>
<path d="M805.3 461.3V490.7"/><path d="M805.3 512V525" style="stroke-dasharray:none"/>
<!-- hoses 10-15 -->
<path d="M1047.5 243.8L1070 231"/><path d="M1026 257.5L1042.5 248.8" style="stroke-dasharray:none"/>
<path d="M1083.8 253.8L1067.5 290" style="stroke-dasharray:10 8 12 4"/>
<path d="M1073.8 293.8L1115 272.5"/><path d="M1126 265L1157.5 248.8"/>
<path d="M1053.8 321L1031 374" style="stroke-dasharray:14 10 20 4"/>
<!-- 22/23 -->
<path d="M1124 680L1057 685"/><path d="M1040 685.8L987.5 689.5"/>
<!-- pump -->
<path d="M800 630.5L842.5 632"/><path d="M873.8 631.8L888.8 632.5" style="stroke-dasharray:none"/>
<path d="M867.5 636L853.8 672L815 668.8"/>
<path d="M816 710L906 729.5" style="stroke-dasharray:19.2 7 4 6.9"/><path d="M952.5 735L1005 747"/>
<!-- long radiator line -->
<path d="M591 466L471 540.5"/><path d="M471 540.5L758 820" style="stroke-dashoffset:12.3"/><path d="M758 820L732.5 835.5" style="stroke-dashoffset:12"/>
<path d="M845 798.8L832.5 806" style="stroke-dasharray:none"/><path d="M823.8 813.8L802.5 827.5" style="stroke-dasharray:none"/><path d="M790 837.5L762.5 851"/>
<!-- hose 17 -->

<path d="M1116.7 956.7L1150 991.7"/>
<path d="M1068 1048L1043.8 1072.5"/><path d="M1033.8 1085L1007.5 1111"/>
<!-- bottom -->
<path d="M765 1001L773.8 998L856 1106"/><path d="M873.8 1132.5L907.5 1172.5"/>
<path d="M861 1010L883.8 1036"/><path d="M888.8 1045L905 1065"/><path d="M917.5 1078.8L961 1133.8"/>
<path d="M927.5 1177.5L940 1168.8" style="stroke-dasharray:none"/>
</g>

<!-- 90_labels.svg -->
<g id="labels">
<text x="825.6" y="90.6">8</text>
<text x="785.6" y="122.6">24</text>
<text x="759" y="145.6">25</text>
<text x="975.6" y="131.8">7</text>
<text x="856.9" y="182.5">26</text>
<text x="879" y="196.2">9</text>
<text x="790" y="226">2</text>
<text x="942.8" y="258.8">3</text>
<text x="1038.5" y="216.5">15</text>
<text x="1038.3" y="274">14</text>
<text x="1021.3" y="310.2">13</text>
<text x="1005.5" y="350.2">14</text>
<text x="1119.3" y="332.2">11</text>
<text x="1210" y="301">10</text>
<text x="1035.5" y="433.5">13</text>
<text x="1069.3" y="433.5">14</text>
<text x="1038.3" y="472.7">12</text>
<text x="663.3" y="404">6</text>
<text x="746.5" y="425">1</text>
<text x="750.7" y="507.7">4</text>
<text x="751.2" y="533.5">5</text>
<text x="1116.5" y="540.2">22</text>
<text x="850.8" y="588.2">32</text>
<text x="877.5" y="694.7">31</text>
<text x="909.5" y="683.2">16</text>
<text x="1047.5" y="648.2">23</text>
<text x="1041.5" y="722.5">27</text>
<text x="1092" y="740.2">29</text>
<text x="972.2" y="787">32</text>
<text x="1002.6" y="795.4">31</text>
<text x="811.8" y="770.2">31</text>
<text x="782" y="786.5">32</text>
<text x="1018.5" y="829.7">18</text>
<text x="1018.5" y="859">19</text>
<text x="1018.5" y="889">20</text>
<text x="1018.5" y="918.5">21</text>
<text x="1018.5" y="947.7">27</text>
<text x="1018.5" y="983.6">28</text>
<text x="1018.5" y="1009.8">29</text>
<text x="971" y="918.9">17</text>
<text x="1205" y="1017.5">21</text>
<text x="853.8" y="939">19</text>
<text x="891.8" y="994.5">20</text>
<text x="922.5" y="1037.2">18</text>
<text x="1101.8" y="1092.2">29</text>
<text x="1046.3" y="1149.7">28</text>
<text x="804.3" y="1139.5">32</text>
<text x="847" y="1180.7">31</text>
<text x="439.3" y="1038.7">30</text>
</g>

</svg></body></html>
